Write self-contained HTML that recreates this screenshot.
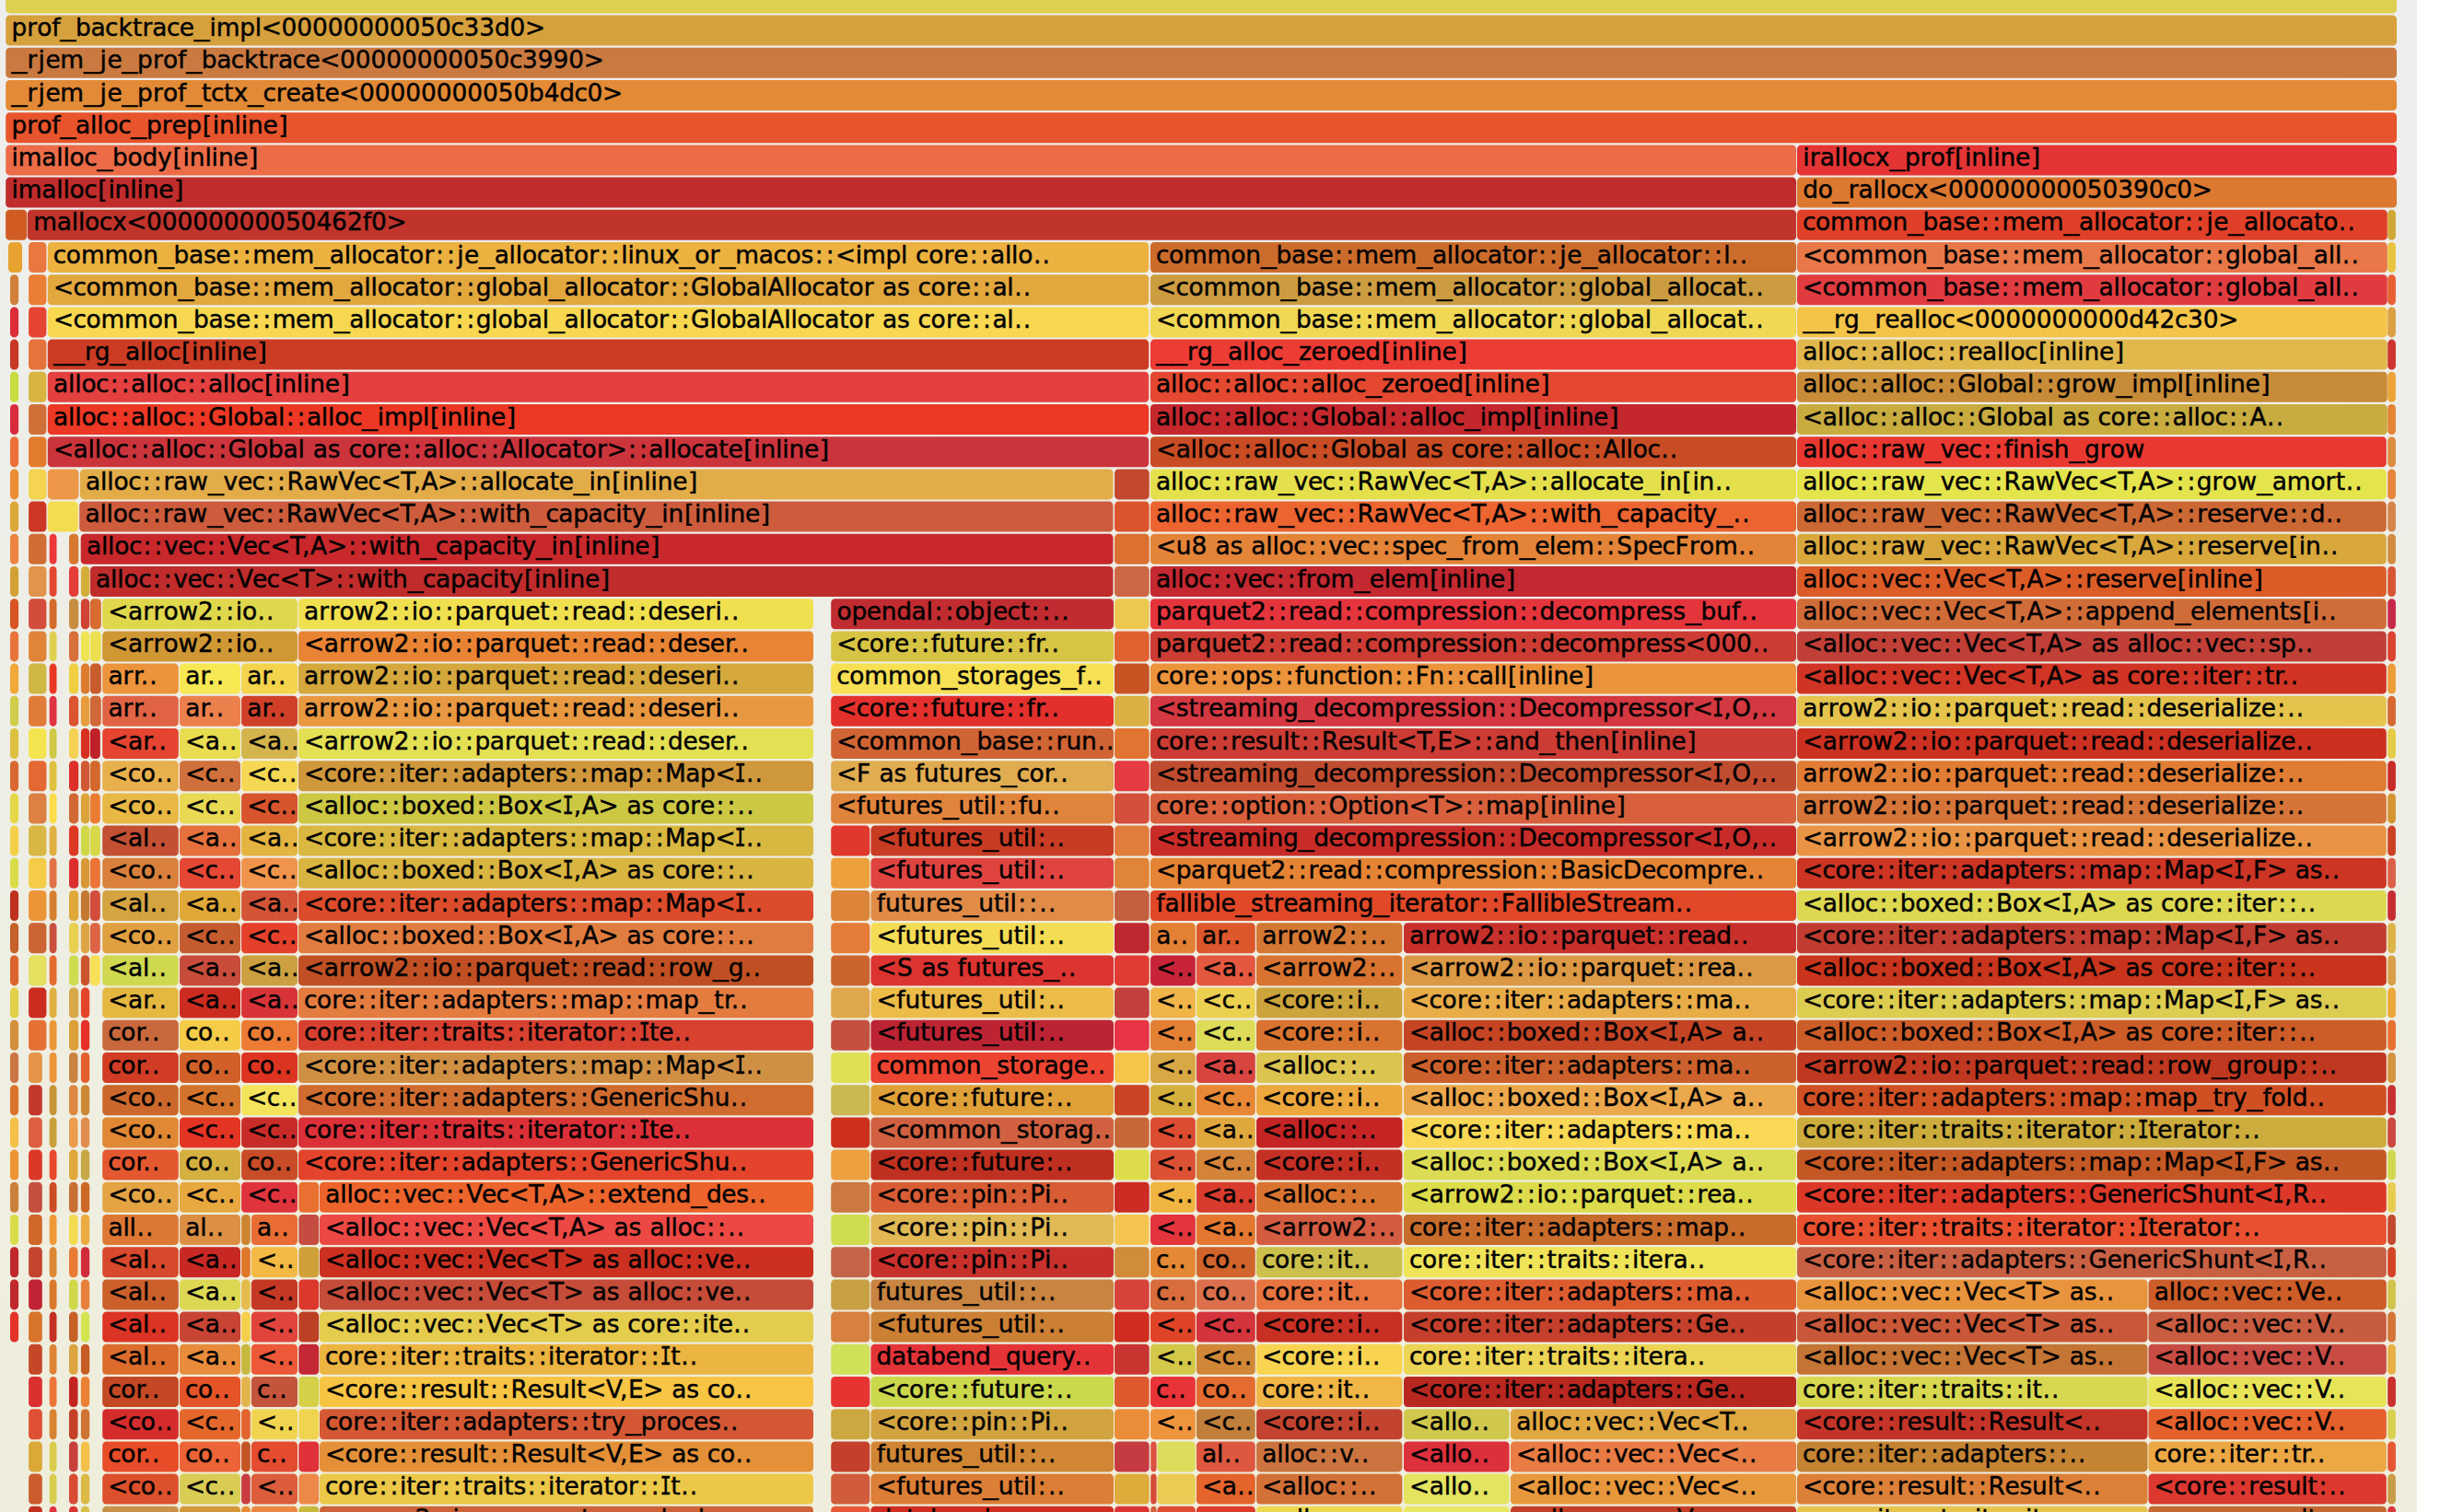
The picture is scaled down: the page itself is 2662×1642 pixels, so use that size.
<!DOCTYPE html>
<html lang="en"><head><meta charset="utf-8"><title>Flame Graph</title>
<style>
html,body{margin:0;padding:0;background:#fff}
body{width:2662px;height:1642px;overflow:hidden}
svg{display:block}
text{font-family:"DejaVu Sans","Liberation Sans",Verdana,sans-serif;font-size:26.4px;fill:#000;stroke:#000;stroke-width:0.45px;stroke-linejoin:round}
.i{font-family:"DejaVu Sans Mono","Liberation Mono",monospace}
</style></head><body>
<svg width="2662" height="1642" viewBox="0 0 2662 1642">
<defs><linearGradient id="bg" x1="0" y1="0" x2="0" y2="1"><stop offset="0" stop-color="#eeeeee"/><stop offset="1" stop-color="#efeedc"/></linearGradient></defs>
<rect x="0" y="0" width="2623.8" height="1642" fill="url(#bg)"/>
<g>
<rect x="6.2" y="-18.6" width="2595.8" height="33" rx="4.4" ry="4.4" fill="rgb(221,208,80)"/>
</g>
<g>
<rect x="6.2" y="16.6" width="2595.8" height="33" rx="4.4" ry="4.4" fill="rgb(214,160,60)"/>
<text y="39.1"><tspan x="12.4 29.2 40.2 56.2">prof</tspan><tspan x="65.5" textLength="16.8" lengthAdjust="spacingAndGlyphs">_</tspan><tspan x="82.1 98.5 114.1 128.4 143.9 154.4 165.3 180.9 194.8">backtrace</tspan><tspan x="210.8" textLength="16.8" lengthAdjust="spacingAndGlyphs">_</tspan><tspan x="227.5 234.7 260.2 276.7 283.7 305.5 322.3 339 355.8 372.6 389.3 406.1 422.8 439.6 456.3 473.1 489.5 503.6 520.3 536.9 553.5 570">impl&lt;00000000050c33d0&gt;</tspan></text>
</g>
<g>
<rect x="6.2" y="51.8" width="2595.8" height="33" rx="4.4" ry="4.4" fill="rgb(202,122,64)"/>
<text y="74.3"><tspan x="12.6" textLength="16.8" lengthAdjust="spacingAndGlyphs">_</tspan><tspan x="29.6 41.5 49.4 65.3">rjem</tspan><tspan x="91" textLength="16.8" lengthAdjust="spacingAndGlyphs">_</tspan><tspan x="108.6 116.6">je</tspan><tspan x="132.5" textLength="16.8" lengthAdjust="spacingAndGlyphs">_</tspan><tspan x="149.1 165.9 176.9 192.9">prof</tspan><tspan x="202.2" textLength="16.8" lengthAdjust="spacingAndGlyphs">_</tspan><tspan x="218.8 235.2 250.8 265.1 280.6 291.1 302 317.6 331.5 347.2 369 385.7 402.5 419.2 436 452.8 469.5 486.3 503 519.8 536.5 552.9 567 583.8 600.5 617.3 633.8">backtrace&lt;00000000050c3990&gt;</tspan></text>
</g>
<g>
<rect x="6.2" y="87" width="2595.8" height="33" rx="4.4" ry="4.4" fill="rgb(226,138,54)"/>
<text y="109.5"><tspan x="12.6" textLength="16.8" lengthAdjust="spacingAndGlyphs">_</tspan><tspan x="29.6 41.5 49.4 65.3">rjem</tspan><tspan x="91" textLength="16.8" lengthAdjust="spacingAndGlyphs">_</tspan><tspan x="108.6 116.6">je</tspan><tspan x="132.5" textLength="16.8" lengthAdjust="spacingAndGlyphs">_</tspan><tspan x="149.1 165.9 176.9 192.9">prof</tspan><tspan x="202.2" textLength="16.8" lengthAdjust="spacingAndGlyphs">_</tspan><tspan x="219 229 243.1 253.5">tctx</tspan><tspan x="269.1" textLength="16.8" lengthAdjust="spacingAndGlyphs">_</tspan><tspan x="285.4 299.7 310.5 326.3 342.3 352.4 368.1 390 406.7 423.5 440.2 457 473.7 490.5 507.2 524 540.8 557.5 574.1 590.7 607.3 623.5 637.6 654.1">create&lt;00000000050b4dc0&gt;</tspan></text>
</g>
<g>
<rect x="6.2" y="122.2" width="2595.8" height="33" rx="4.4" ry="4.4" fill="rgb(232,84,44)"/>
<text y="144.7"><tspan x="12.4 29.2 40.2 56.2">prof</tspan><tspan x="65.5" textLength="16.8" lengthAdjust="spacingAndGlyphs">_</tspan><tspan x="82.1 98.1 105.3 112.5 128.2">alloc</tspan><tspan x="142.3" textLength="16.8" lengthAdjust="spacingAndGlyphs">_</tspan><tspan x="158.9 175.7 186.4 202.2 219.7 230.7 238 254.6 261.8 269.1 285.5 302.3">prep[inline]</tspan></text>
</g>
<g>
<rect x="6.2" y="157.4" width="1943.9" height="33" rx="4.4" ry="4.4" fill="rgb(236,108,72)"/>
<rect x="1951" y="157.4" width="651" height="33" rx="4.4" ry="4.4" fill="rgb(228,52,52)"/>
<text y="179.9"><tspan x="12.5 19.8 45.3 61.2 68.5 75.6 91.3">imalloc</tspan><tspan x="105.4" textLength="16.8" lengthAdjust="spacingAndGlyphs">_</tspan><tspan x="122 138.5 154.4 171 187.5 198.5 205.8 222.4 229.6 236.9 253.3 270.1">body[inline]</tspan></text>
<text y="179.9"><tspan x="1957.3 1964.8 1975.7 1991.6 1998.9 2006.1 2021.7 2035.8">irallocx</tspan><tspan x="2051.5" textLength="16.8" lengthAdjust="spacingAndGlyphs">_</tspan><tspan x="2068 2084.8 2095.8 2111.9 2122 2133.1 2140.3 2156.9 2164.2 2171.4 2187.9 2204.7">prof[inline]</tspan></text>
</g>
<g>
<rect x="6.2" y="192.6" width="1943.9" height="33" rx="4.4" ry="4.4" fill="rgb(192,44,44)"/>
<rect x="1951" y="192.6" width="651" height="33" rx="4.4" ry="4.4" fill="rgb(220,120,48)"/>
<text y="215.1" x="12.5 19.8 45.3 61.2 68.5 75.6 91.3 106.3 117.4 124.6 141.2 148.5 155.7 172.2 189">imalloc[inline]</text>
<text y="215.1"><tspan x="1957.2 1973.7">do</tspan><tspan x="1989.8" textLength="16.8" lengthAdjust="spacingAndGlyphs">_</tspan><tspan x="2006.8 2017.6 2033.6 2040.8 2048 2063.7 2077.8 2093.1 2114.9 2131.7 2148.5 2165.2 2182 2198.7 2215.5 2232.2 2249 2265.7 2282.5 2299.3 2316 2332.8 2349.2 2363.3 2379.8">rallocx&lt;00000000050390c0&gt;</tspan></text>
</g>
<g>
<rect x="6.1" y="227.8" width="23.1" height="33" rx="4.4" ry="4.4" fill="rgb(208,92,36)"/>
<rect x="29.9" y="227.8" width="1920.2" height="33" rx="4.4" ry="4.4" fill="rgb(192,52,44)"/>
<rect x="1951" y="227.8" width="640.8" height="33" rx="4.4" ry="4.4" fill="rgb(224,64,40)"/>
<rect x="2592.2" y="227.8" width="8.7" height="33" rx="4.4" ry="4.4" fill="rgb(208,168,56)"/>
<text y="250.3" x="36.3 61.8 77.7 84.9 92.1 107.8 121.9 137.2 159.1 175.8 192.6 209.3 226.1 242.8 259.6 276.4 293.1 309.9 326.6 343.4 360.1 376.9 393.7 402.9 419.4">mallocx&lt;00000000050462f0&gt;</text>
<text y="250.3"><tspan x="1957 1971 1987.1 2012.7 2038.3 2054.4">common</tspan><tspan x="2071.1" textLength="16.8" lengthAdjust="spacingAndGlyphs">_</tspan><tspan x="2087.6 2104.1 2120.1 2133.5 2151 2163 2173.4 2198.8 2214.7">base::mem</tspan><tspan x="2240.4" textLength="16.8" lengthAdjust="spacingAndGlyphs">_</tspan><tspan x="2257 2272.9 2280.1 2287.3 2303 2317 2333 2343.3 2359.6 2372.1 2384.1 2395.4 2403.3">allocator::je</tspan><tspan x="2419.3" textLength="16.8" lengthAdjust="spacingAndGlyphs">_</tspan><tspan x="2435.9 2451.8 2459 2466.2 2481.9 2495.9 2511.9 2522.2 2538.8 2548.4">allocato..</tspan></text>
</g>
<g>
<rect x="9" y="263" width="15" height="33" rx="4.4" ry="4.4" fill="rgb(232,162,48)"/>
<rect x="31.1" y="263" width="19.3" height="33" rx="4.4" ry="4.4" fill="rgb(232,120,64)"/>
<rect x="51.8" y="263" width="1195.4" height="33" rx="4.4" ry="4.4" fill="rgb(236,178,64)"/>
<rect x="1248.9" y="263" width="701.2" height="33" rx="4.4" ry="4.4" fill="rgb(204,108,44)"/>
<rect x="1951" y="263" width="640.8" height="33" rx="4.4" ry="4.4" fill="rgb(232,120,72)"/>
<rect x="2592.2" y="263" width="8.7" height="33" rx="4.4" ry="4.4" fill="rgb(232,196,64)"/>
<text y="285.5"><tspan x="57.8 71.8 87.9 113.5 139.1 155.2">common</tspan><tspan x="171.9" textLength="16.8" lengthAdjust="spacingAndGlyphs">_</tspan><tspan x="188.4 204.9 220.9 234.3 251.8 263.8 274.2 299.6 315.5">base::mem</tspan><tspan x="341.2" textLength="16.8" lengthAdjust="spacingAndGlyphs">_</tspan><tspan x="357.8 373.7 380.9 388.1 403.8 417.8 433.8 444.1 460.4 472.9 484.9 496.2 504.1">allocator::je</tspan><tspan x="520.1" textLength="16.8" lengthAdjust="spacingAndGlyphs">_</tspan><tspan x="536.7 552.6 559.8 567 582.7 596.7 612.7 623 639.2 651.8 663.8 674.2 681.4 688.6 705.3 722">allocator::linux</tspan><tspan x="737.6" textLength="16.8" lengthAdjust="spacingAndGlyphs">_</tspan><tspan x="754.3 770.6">or</tspan><tspan x="781.6" textLength="16.8" lengthAdjust="spacingAndGlyphs">_</tspan><tspan x="798.3 823.8 839.4 853.5 869.5 884.8 896.8 906.9 928.7 935.9 961.4 978 985.7 994.1 1008.2 1024.4 1035.2 1052.7 1064.7 1075 1090.9 1098.1 1105.3 1122 1131.6">macos::&lt;impl core::allo..</tspan></text>
<text y="285.5"><tspan x="1254.9 1268.9 1285 1310.6 1336.2 1352.3">common</tspan><tspan x="1369" textLength="16.8" lengthAdjust="spacingAndGlyphs">_</tspan><tspan x="1385.5 1402 1418 1431.4 1448.9 1460.9 1471.3 1496.7 1512.6">base::mem</tspan><tspan x="1538.3" textLength="16.8" lengthAdjust="spacingAndGlyphs">_</tspan><tspan x="1554.9 1570.8 1578 1585.2 1600.9 1614.9 1630.9 1641.2 1657.5 1670 1682 1693.3 1701.2">allocator::je</tspan><tspan x="1717.2" textLength="16.8" lengthAdjust="spacingAndGlyphs">_</tspan><tspan x="1733.8 1749.7 1756.9 1764.1 1779.8 1793.8 1809.8 1820.1 1836.3 1848.9 1860.9 1871.3 1879.1 1888.7">allocator::l..</tspan></text>
<text y="285.5"><tspan x="1957.1 1978.6 1992.6 2008.6 2034.3 2059.9 2075.9">&lt;common</tspan><tspan x="2092.6" textLength="16.8" lengthAdjust="spacingAndGlyphs">_</tspan><tspan x="2109.2 2125.6 2141.6 2155.1 2172.6 2184.5 2194.9 2220.3 2236.3">base::mem</tspan><tspan x="2261.9" textLength="16.8" lengthAdjust="spacingAndGlyphs">_</tspan><tspan x="2278.5 2294.5 2301.7 2308.9 2324.6 2338.5 2354.5 2364.8 2381.1 2393.7 2405.7 2415.9 2432.4 2439.6 2455.5 2471.9 2487.9">allocator::global</tspan><tspan x="2495.2" textLength="16.8" lengthAdjust="spacingAndGlyphs">_</tspan><tspan x="2511.8 2527.7 2534.9 2542.8 2552.4">all..</tspan></text>
</g>
<g>
<rect x="11" y="298.2" width="9.1" height="33" rx="4.4" ry="4.4" fill="rgb(208,128,56)"/>
<rect x="31.1" y="298.2" width="19.3" height="33" rx="4.4" ry="4.4" fill="rgb(234,126,52)"/>
<rect x="51.8" y="298.2" width="1195.4" height="33" rx="4.4" ry="4.4" fill="rgb(226,168,62)"/>
<rect x="1248.9" y="298.2" width="701.2" height="33" rx="4.4" ry="4.4" fill="rgb(204,156,64)"/>
<rect x="1951" y="298.2" width="640.8" height="33" rx="4.4" ry="4.4" fill="rgb(224,60,64)"/>
<rect x="2592.2" y="298.2" width="8.7" height="33" rx="4.4" ry="4.4" fill="rgb(232,96,52)"/>
<text y="320.7"><tspan x="57.9 79.4 93.4 109.4 135.1 160.7 176.7">&lt;common</tspan><tspan x="193.4" textLength="16.8" lengthAdjust="spacingAndGlyphs">_</tspan><tspan x="210 226.4 242.4 255.9 273.4 285.3 295.7 321.1 337.1">base::mem</tspan><tspan x="362.7" textLength="16.8" lengthAdjust="spacingAndGlyphs">_</tspan><tspan x="379.3 395.3 402.5 409.7 425.4 439.3 455.3 465.6 481.9 494.5 506.5 516.7 533.2 540.4 556.3 572.7 588.7">allocator::global</tspan><tspan x="596" textLength="16.8" lengthAdjust="spacingAndGlyphs">_</tspan><tspan x="612.6 628.5 635.7 642.9 658.6 672.6 688.6 698.9 715.1 727.7 739.7 750.1 770.5 777.7 793.6 810 825.9 833.2 851.2 858.4 865.6 881.3 895.2 911.2 921.5 937.8 949.3 957.9 973.9 988.1 996.6 1010.6 1026.9 1037.7 1055.2 1067.1 1077.4 1093.3 1101.2 1110.8">allocator::GlobalAllocator as core::al..</tspan></text>
<text y="320.7"><tspan x="1255 1276.5 1290.5 1306.5 1332.2 1357.8 1373.8">&lt;common</tspan><tspan x="1390.5" textLength="16.8" lengthAdjust="spacingAndGlyphs">_</tspan><tspan x="1407.1 1423.5 1439.5 1453 1470.5 1482.4 1492.8 1518.2 1534.2">base::mem</tspan><tspan x="1559.8" textLength="16.8" lengthAdjust="spacingAndGlyphs">_</tspan><tspan x="1576.4 1592.4 1599.6 1606.8 1622.5 1636.4 1652.4 1662.7 1679 1691.6 1703.6 1713.8 1730.3 1737.5 1753.4 1769.8 1785.8">allocator::global</tspan><tspan x="1793.1" textLength="16.8" lengthAdjust="spacingAndGlyphs">_</tspan><tspan x="1809.7 1825.6 1832.8 1840 1855.7 1869.7 1885.7 1896.6 1906.2">allocat..</tspan></text>
<text y="320.7"><tspan x="1957.1 1978.6 1992.6 2008.6 2034.3 2059.9 2075.9">&lt;common</tspan><tspan x="2092.6" textLength="16.8" lengthAdjust="spacingAndGlyphs">_</tspan><tspan x="2109.2 2125.6 2141.6 2155.1 2172.6 2184.5 2194.9 2220.3 2236.3">base::mem</tspan><tspan x="2261.9" textLength="16.8" lengthAdjust="spacingAndGlyphs">_</tspan><tspan x="2278.5 2294.5 2301.7 2308.9 2324.6 2338.5 2354.5 2364.8 2381.1 2393.7 2405.7 2415.9 2432.4 2439.6 2455.5 2471.9 2487.9">allocator::global</tspan><tspan x="2495.2" textLength="16.8" lengthAdjust="spacingAndGlyphs">_</tspan><tspan x="2511.8 2527.7 2534.9 2542.8 2552.4">all..</tspan></text>
</g>
<g>
<rect x="11" y="333.4" width="9.1" height="33" rx="4.4" ry="4.4" fill="rgb(220,44,56)"/>
<rect x="31.1" y="333.4" width="19.3" height="33" rx="4.4" ry="4.4" fill="rgb(230,68,50)"/>
<rect x="51.8" y="333.4" width="1195.4" height="33" rx="4.4" ry="4.4" fill="rgb(248,216,80)"/>
<rect x="1248.9" y="333.4" width="701.2" height="33" rx="4.4" ry="4.4" fill="rgb(240,216,84)"/>
<rect x="1951" y="333.4" width="640.8" height="33" rx="4.4" ry="4.4" fill="rgb(244,196,72)"/>
<rect x="2592.2" y="333.4" width="8.7" height="33" rx="4.4" ry="4.4" fill="rgb(220,160,68)"/>
<text y="355.9"><tspan x="57.9 79.4 93.4 109.4 135.1 160.7 176.7">&lt;common</tspan><tspan x="193.4" textLength="16.8" lengthAdjust="spacingAndGlyphs">_</tspan><tspan x="210 226.4 242.4 255.9 273.4 285.3 295.7 321.1 337.1">base::mem</tspan><tspan x="362.7" textLength="16.8" lengthAdjust="spacingAndGlyphs">_</tspan><tspan x="379.3 395.3 402.5 409.7 425.4 439.3 455.3 465.6 481.9 494.5 506.5 516.7 533.2 540.4 556.3 572.7 588.7">allocator::global</tspan><tspan x="596" textLength="16.8" lengthAdjust="spacingAndGlyphs">_</tspan><tspan x="612.6 628.5 635.7 642.9 658.6 672.6 688.6 698.9 715.1 727.7 739.7 750.1 770.5 777.7 793.6 810 825.9 833.2 851.2 858.4 865.6 881.3 895.2 911.2 921.5 937.8 949.3 957.9 973.9 988.1 996.6 1010.6 1026.9 1037.7 1055.2 1067.1 1077.4 1093.3 1101.2 1110.8">allocator::GlobalAllocator as core::al..</tspan></text>
<text y="355.9"><tspan x="1255 1276.5 1290.5 1306.5 1332.2 1357.8 1373.8">&lt;common</tspan><tspan x="1390.5" textLength="16.8" lengthAdjust="spacingAndGlyphs">_</tspan><tspan x="1407.1 1423.5 1439.5 1453 1470.5 1482.4 1492.8 1518.2 1534.2">base::mem</tspan><tspan x="1559.8" textLength="16.8" lengthAdjust="spacingAndGlyphs">_</tspan><tspan x="1576.4 1592.4 1599.6 1606.8 1622.5 1636.4 1652.4 1662.7 1679 1691.6 1703.6 1713.8 1730.3 1737.5 1753.4 1769.8 1785.8">allocator::global</tspan><tspan x="1793.1" textLength="16.8" lengthAdjust="spacingAndGlyphs">_</tspan><tspan x="1809.7 1825.6 1832.8 1840 1855.7 1869.7 1885.7 1896.6 1906.2">allocat..</tspan></text>
<text y="355.9"><tspan x="1957.4" textLength="16.8" lengthAdjust="spacingAndGlyphs">_</tspan><tspan x="1974.2" textLength="16.8" lengthAdjust="spacingAndGlyphs">_</tspan><tspan x="1991.1 2002">rg</tspan><tspan x="2018.6" textLength="16.8" lengthAdjust="spacingAndGlyphs">_</tspan><tspan x="2035.5 2046.3 2062.1 2078.1 2085.3 2092.5 2108.2 2122 2143.8 2160.6 2177.3 2194.1 2210.8 2227.6 2244.4 2261.1 2277.9 2294.6 2311.2 2327.8 2344.6 2360.9 2375 2391.8 2408.3">realloc&lt;0000000000d42c30&gt;</tspan></text>
</g>
<g>
<rect x="11" y="368.6" width="9.1" height="33" rx="4.4" ry="4.4" fill="rgb(200,56,36)"/>
<rect x="31.1" y="368.6" width="19.3" height="33" rx="4.4" ry="4.4" fill="rgb(228,116,60)"/>
<rect x="51.8" y="368.6" width="1195.4" height="33" rx="4.4" ry="4.4" fill="rgb(204,60,36)"/>
<rect x="1248.9" y="368.6" width="701.2" height="33" rx="4.4" ry="4.4" fill="rgb(236,60,52)"/>
<rect x="1951" y="368.6" width="640.8" height="33" rx="4.4" ry="4.4" fill="rgb(224,184,76)"/>
<rect x="2592.2" y="368.6" width="8.7" height="33" rx="4.4" ry="4.4" fill="rgb(204,52,48)"/>
<text y="391.1"><tspan x="58.2" textLength="16.8" lengthAdjust="spacingAndGlyphs">_</tspan><tspan x="75" textLength="16.8" lengthAdjust="spacingAndGlyphs">_</tspan><tspan x="91.9 102.8">rg</tspan><tspan x="119.4" textLength="16.8" lengthAdjust="spacingAndGlyphs">_</tspan><tspan x="136 151.9 159.1 166.3 182 197 208 215.3 231.9 239.1 246.4 262.8 279.6">alloc[inline]</tspan></text>
<text y="391.1"><tspan x="1255.3" textLength="16.8" lengthAdjust="spacingAndGlyphs">_</tspan><tspan x="1272.1" textLength="16.8" lengthAdjust="spacingAndGlyphs">_</tspan><tspan x="1289 1299.9">rg</tspan><tspan x="1316.5" textLength="16.8" lengthAdjust="spacingAndGlyphs">_</tspan><tspan x="1333.1 1349 1356.2 1363.4 1379.1">alloc</tspan><tspan x="1393.2" textLength="16.8" lengthAdjust="spacingAndGlyphs">_</tspan><tspan x="1410 1423.5 1439.7 1450.7 1466.5 1482.3 1499.7 1510.8 1518 1534.7 1541.9 1549.1 1565.6 1582.4">zeroed[inline]</tspan></text>
<text y="391.1" x="1957.2 1973.2 1980.4 1987.6 2003.3 2018.9 2030.9 2041.1 2057.1 2064.3 2071.5 2087.2 2102.8 2114.8 2125.4 2136.2 2152 2168 2175.2 2182.4 2198.1 2213 2224.1 2231.3 2248 2255.2 2262.4 2278.9 2295.7">alloc::alloc::realloc[inline]</text>
</g>
<g>
<rect x="11" y="403.8" width="9.1" height="33" rx="4.4" ry="4.4" fill="rgb(200,220,64)"/>
<rect x="31.1" y="403.8" width="19.3" height="33" rx="4.4" ry="4.4" fill="rgb(216,180,64)"/>
<rect x="51.8" y="403.8" width="1195.4" height="33" rx="4.4" ry="4.4" fill="rgb(228,64,64)"/>
<rect x="1248.9" y="403.8" width="701.2" height="33" rx="4.4" ry="4.4" fill="rgb(228,72,48)"/>
<rect x="1951" y="403.8" width="640.8" height="33" rx="4.4" ry="4.4" fill="rgb(200,140,56)"/>
<rect x="2592.2" y="403.8" width="8.7" height="33" rx="4.4" ry="4.4" fill="rgb(236,164,56)"/>
<text y="426.3" x="58 74 81.2 88.4 104.1 119.7 131.7 141.9 157.9 165.1 172.3 188 203.6 215.6 225.9 241.8 249 256.2 271.9 286.9 297.9 305.2 321.8 329 336.3 352.7 369.5">alloc::alloc::alloc[inline]</text>
<text y="426.3"><tspan x="1255.1 1271.1 1278.3 1285.5 1301.2 1316.8 1328.8 1339 1355 1362.2 1369.4 1385.1 1400.7 1412.7 1423 1438.9 1446.1 1453.3 1469">alloc::alloc::alloc</tspan><tspan x="1483.1" textLength="16.8" lengthAdjust="spacingAndGlyphs">_</tspan><tspan x="1499.9 1513.4 1529.6 1540.6 1556.4 1572.2 1589.6 1600.7 1607.9 1624.6 1631.8 1639 1655.5 1672.3">zeroed[inline]</tspan></text>
<text y="426.3"><tspan x="1957.2 1973.2 1980.4 1987.6 2003.3 2018.9 2030.9 2041.1 2057.1 2064.3 2071.5 2087.2 2102.8 2114.8 2125.2 2145.6 2152.8 2168.7 2185.1 2201.1 2209.9 2221.8 2232.1 2248.9 2259.8 2275.9">alloc::alloc::Global::grow</tspan><tspan x="2297.5" textLength="16.8" lengthAdjust="spacingAndGlyphs">_</tspan><tspan x="2314.2 2321.4 2346.9 2363.4 2371.5 2382.6 2389.9 2406.5 2413.7 2421 2437.4 2454.2">impl[inline]</tspan></text>
</g>
<g>
<rect x="11" y="439" width="9.1" height="33" rx="4.4" ry="4.4" fill="rgb(216,44,60)"/>
<rect x="31.1" y="439" width="19.3" height="33" rx="4.4" ry="4.4" fill="rgb(208,112,56)"/>
<rect x="51.8" y="439" width="1195.4" height="33" rx="4.4" ry="4.4" fill="rgb(236,56,36)"/>
<rect x="1248.9" y="439" width="701.2" height="33" rx="4.4" ry="4.4" fill="rgb(196,40,44)"/>
<rect x="1951" y="439" width="640.8" height="33" rx="4.4" ry="4.4" fill="rgb(200,172,64)"/>
<rect x="2592.2" y="439" width="8.7" height="33" rx="4.4" ry="4.4" fill="rgb(228,132,52)"/>
<text y="461.5"><tspan x="58 74 81.2 88.4 104.1 119.7 131.7 141.9 157.9 165.1 172.3 188 203.6 215.6 226 246.4 253.6 269.5 285.9 301.9 310.7 322.6 332.9 348.8 356.1 363.2 378.9">alloc::alloc::Global::alloc</tspan><tspan x="393" textLength="16.8" lengthAdjust="spacingAndGlyphs">_</tspan><tspan x="409.7 417 442.5 459 467.1 478.2 485.4 502.1 509.3 516.6 533 549.8">impl[inline]</tspan></text>
<text y="461.5"><tspan x="1255.1 1271.1 1278.3 1285.5 1301.2 1316.8 1328.8 1339 1355 1362.2 1369.4 1385.1 1400.7 1412.7 1423.1 1443.5 1450.7 1466.6 1483 1499 1507.8 1519.7 1530 1545.9 1553.2 1560.3 1576">alloc::alloc::Global::alloc</tspan><tspan x="1590.1" textLength="16.8" lengthAdjust="spacingAndGlyphs">_</tspan><tspan x="1606.8 1614.1 1639.6 1656.1 1664.2 1675.3 1682.5 1699.2 1706.4 1713.7 1730.1 1746.9">impl[inline]</tspan></text>
<text y="461.5" x="1957.1 1978.8 1994.7 2001.9 2009.1 2024.8 2040.5 2052.4 2062.7 2078.6 2085.9 2093.1 2108.7 2124.4 2136.4 2146.8 2167.1 2174.3 2190.2 2206.7 2222.6 2230.3 2239 2255 2269.2 2277.6 2291.6 2307.9 2318.7 2336.2 2348.2 2358.4 2374.4 2381.6 2388.8 2404.5 2420.1 2432.1 2442.5 2461.1 2470.7">&lt;alloc::alloc::Global as core::alloc::A..</text>
</g>
<g>
<rect x="11" y="474.2" width="9.1" height="33" rx="4.4" ry="4.4" fill="rgb(236,112,56)"/>
<rect x="31.1" y="474.2" width="19.3" height="33" rx="4.4" ry="4.4" fill="rgb(226,124,44)"/>
<rect x="51.8" y="474.2" width="1195.4" height="33" rx="4.4" ry="4.4" fill="rgb(204,52,60)"/>
<rect x="1248.9" y="474.2" width="701.2" height="33" rx="4.4" ry="4.4" fill="rgb(200,76,36)"/>
<rect x="1951" y="474.2" width="639.8" height="33" rx="4.4" ry="4.4" fill="rgb(232,56,48)"/>
<rect x="2592.2" y="474.2" width="8.7" height="33" rx="4.4" ry="4.4" fill="rgb(220,140,64)"/>
<text y="496.7" x="57.9 79.6 95.5 102.7 109.9 125.6 141.3 153.2 163.5 179.4 186.7 193.9 209.5 225.2 237.2 247.6 267.9 275.1 291 307.5 323.4 331.1 339.8 355.8 370 378.4 392.4 408.7 419.5 437 449 459.2 475.2 482.4 489.6 505.3 520.9 532.9 543.3 561.3 568.5 575.7 591.4 605.3 621.3 631.6 647.9 658.7 682 694 704.2 720.2 727.4 734.6 750.3 764.2 780.3 790.4 807.2 818.2 825.5 842.1 849.3 856.6 873 889.8">&lt;alloc::alloc::Global as core::alloc::Allocator&gt;::allocate[inline]</text>
<text y="496.7" x="1255 1276.7 1292.6 1299.8 1307 1322.7 1338.4 1350.3 1360.6 1376.5 1383.8 1391 1406.6 1422.3 1434.3 1444.7 1465 1472.2 1488.1 1504.6 1520.5 1528.2 1536.9 1552.9 1567.1 1575.5 1589.5 1605.8 1616.6 1634.1 1646.1 1656.3 1672.3 1679.5 1686.7 1702.4 1718 1730 1740.4 1758.4 1765.6 1772.8 1788.5 1803.2 1812.8">&lt;alloc::alloc::Global as core::alloc::Alloc..</text>
<text y="496.7"><tspan x="1957.2 1973.2 1980.4 1987.6 2003.3 2018.9 2030.9 2041.5 2052.4 2068.4">alloc::raw</tspan><tspan x="2090" textLength="16.8" lengthAdjust="spacingAndGlyphs">_</tspan><tspan x="2106.7 2122 2137.6 2153.3 2165.2 2175.7 2184.9 2192.1 2208.8 2216 2229.8">vec::finish</tspan><tspan x="2246.5" textLength="16.8" lengthAdjust="spacingAndGlyphs">_</tspan><tspan x="2263 2279.8 2290.8 2306.8">grow</tspan></text>
</g>
<g>
<rect x="11" y="509.4" width="9.1" height="33" rx="4.4" ry="4.4" fill="rgb(236,140,52)"/>
<rect x="31.1" y="509.4" width="19.3" height="33" rx="4.4" ry="4.4" fill="rgb(244,212,80)"/>
<rect x="51.8" y="509.4" width="33.7" height="33" rx="4.4" ry="4.4" fill="rgb(236,152,72)"/>
<rect x="86.9" y="509.4" width="1121.6" height="33" rx="4.4" ry="4.4" fill="rgb(226,172,72)"/>
<rect x="1210" y="509.4" width="37.7" height="33" rx="4.4" ry="4.4" fill="rgb(196,72,48)"/>
<rect x="1248.9" y="509.4" width="701.2" height="33" rx="4.4" ry="4.4" fill="rgb(228,224,76)"/>
<rect x="1951" y="509.4" width="639.8" height="33" rx="4.4" ry="4.4" fill="rgb(228,228,76)"/>
<rect x="2592.2" y="509.4" width="8.7" height="33" rx="4.4" ry="4.4" fill="rgb(232,132,56)"/>
<text y="531.9"><tspan x="93.1 109.1 116.3 123.5 139.2 154.8 166.8 177.4 188.3 204.3">alloc::raw</tspan><tspan x="225.9" textLength="16.8" lengthAdjust="spacingAndGlyphs">_</tspan><tspan x="242.6 257.9 273.5 289.2 301.1 311.5 329.7 345.7 367.2 384 399.6 413.4 435.3 448.4 457.4 475.1 498.5 510.5 520.7 536.7 543.9 551.1 566.8 580.7 596.7 606.8">vec::RawVec&lt;T,A&gt;::allocate</tspan><tspan x="622.8" textLength="16.8" lengthAdjust="spacingAndGlyphs">_</tspan><tspan x="639.5 646.8 664.3 675.4 682.6 699.3 706.5 713.7 730.2 747">in[inline]</tspan></text>
<text y="531.9"><tspan x="1255.1 1271.1 1278.3 1285.5 1301.2 1316.8 1328.8 1339.4 1350.3 1366.3">alloc::raw</tspan><tspan x="1387.9" textLength="16.8" lengthAdjust="spacingAndGlyphs">_</tspan><tspan x="1404.6 1419.9 1435.5 1451.2 1463.1 1473.5 1491.7 1507.7 1529.2 1546 1561.6 1575.4 1597.3 1610.4 1619.4 1637.1 1660.5 1672.5 1682.7 1698.7 1705.9 1713.1 1728.8 1742.7 1758.7 1768.8">vec::RawVec&lt;T,A&gt;::allocate</tspan><tspan x="1784.8" textLength="16.8" lengthAdjust="spacingAndGlyphs">_</tspan><tspan x="1801.5 1808.8 1826.3 1837.4 1844.6 1861.9 1871.5">in[in..</tspan></text>
<text y="531.9"><tspan x="1957.2 1973.2 1980.4 1987.6 2003.3 2018.9 2030.9 2041.5 2052.4 2068.4">alloc::raw</tspan><tspan x="2090" textLength="16.8" lengthAdjust="spacingAndGlyphs">_</tspan><tspan x="2106.7 2122 2137.6 2153.3 2165.2 2175.6 2193.8 2209.8 2231.3 2248.1 2263.7 2277.5 2299.4 2312.5 2321.5 2339.2 2362.6 2374.6 2384.8 2401.6 2412.6 2428.6">vec::RawVec&lt;T,A&gt;::grow</tspan><tspan x="2450.2" textLength="16.8" lengthAdjust="spacingAndGlyphs">_</tspan><tspan x="2466.8 2482.8 2508.4 2524.6 2535.7 2546.7 2556.3">amort..</tspan></text>
</g>
<g>
<rect x="11" y="544.6" width="9.1" height="33" rx="4.4" ry="4.4" fill="rgb(220,168,56)"/>
<rect x="31.1" y="544.6" width="19.3" height="33" rx="4.4" ry="4.4" fill="rgb(204,56,36)"/>
<rect x="51.8" y="544.6" width="33" height="33" rx="4.4" ry="4.4" fill="rgb(244,220,80)"/>
<rect x="86.2" y="544.6" width="1122.3" height="33" rx="4.4" ry="4.4" fill="rgb(204,92,60)"/>
<rect x="1210" y="544.6" width="37.7" height="33" rx="4.4" ry="4.4" fill="rgb(220,84,44)"/>
<rect x="1248.9" y="544.6" width="701.2" height="33" rx="4.4" ry="4.4" fill="rgb(236,100,48)"/>
<rect x="1951" y="544.6" width="639.8" height="33" rx="4.4" ry="4.4" fill="rgb(204,104,52)"/>
<rect x="2592.2" y="544.6" width="8.7" height="33" rx="4.4" ry="4.4" fill="rgb(212,132,76)"/>
<text y="567.1"><tspan x="92.4 108.4 115.6 122.8 138.5 154.1 166.1 176.7 187.6 203.6">alloc::raw</tspan><tspan x="225.2" textLength="16.8" lengthAdjust="spacingAndGlyphs">_</tspan><tspan x="241.9 257.2 272.8 288.5 300.4 310.8 329 345 366.5 383.3 398.9 412.7 434.6 447.7 456.7 474.4 497.8 509.8 520.2 541.7 549 559.3">vec::RawVec&lt;T,A&gt;::with</tspan><tspan x="576" textLength="16.8" lengthAdjust="spacingAndGlyphs">_</tspan><tspan x="592.4 606.3 622.2 638.6 654.2 668.3 675.6 685.9">capacity</tspan><tspan x="701.5" textLength="16.8" lengthAdjust="spacingAndGlyphs">_</tspan><tspan x="718.2 725.5 743 754.1 761.3 778 785.2 792.5 808.9 825.7">in[inline]</tspan></text>
<text y="567.1"><tspan x="1255.1 1271.1 1278.3 1285.5 1301.2 1316.8 1328.8 1339.4 1350.3 1366.3">alloc::raw</tspan><tspan x="1387.9" textLength="16.8" lengthAdjust="spacingAndGlyphs">_</tspan><tspan x="1404.6 1419.9 1435.5 1451.2 1463.1 1473.5 1491.7 1507.7 1529.2 1546 1561.6 1575.4 1597.3 1610.4 1619.4 1637.1 1660.5 1672.5 1682.9 1704.4 1711.7 1722">vec::RawVec&lt;T,A&gt;::with</tspan><tspan x="1738.7" textLength="16.8" lengthAdjust="spacingAndGlyphs">_</tspan><tspan x="1755.1 1769 1784.9 1801.3 1816.9 1831 1838.3 1848.6">capacity</tspan><tspan x="1864.2" textLength="16.8" lengthAdjust="spacingAndGlyphs">_</tspan><tspan x="1881.6 1891.2">..</tspan></text>
<text y="567.1"><tspan x="1957.2 1973.2 1980.4 1987.6 2003.3 2018.9 2030.9 2041.5 2052.4 2068.4">alloc::raw</tspan><tspan x="2090" textLength="16.8" lengthAdjust="spacingAndGlyphs">_</tspan><tspan x="2106.7 2122 2137.6 2153.3 2165.2 2175.6 2193.8 2209.8 2231.3 2248.1 2263.7 2277.5 2299.4 2312.5 2321.5 2339.2 2362.6 2374.6 2385.2 2396 2411.9 2425.4 2441.6 2452.6 2468 2485.5 2497.4 2507.7 2524.9 2534.5">vec::RawVec&lt;T,A&gt;::reserve::d..</tspan></text>
</g>
<g>
<rect x="11" y="579.8" width="9.1" height="33" rx="4.4" ry="4.4" fill="rgb(236,132,64)"/>
<rect x="31.1" y="579.8" width="19.3" height="33" rx="4.4" ry="4.4" fill="rgb(208,108,52)"/>
<rect x="53.7" y="579.8" width="7.8" height="33" rx="4.4" ry="4.4" fill="rgb(236,56,56)"/>
<rect x="75" y="579.8" width="10.2" height="33" rx="4.4" ry="4.4" fill="rgb(216,120,48)"/>
<rect x="87.7" y="579.8" width="1120.8" height="33" rx="4.4" ry="4.4" fill="rgb(200,40,44)"/>
<rect x="1210" y="579.8" width="37.7" height="33" rx="4.4" ry="4.4" fill="rgb(220,112,48)"/>
<rect x="1248.9" y="579.8" width="701.2" height="33" rx="4.4" ry="4.4" fill="rgb(228,132,56)"/>
<rect x="1951" y="579.8" width="639.8" height="33" rx="4.4" ry="4.4" fill="rgb(216,168,60)"/>
<rect x="2592.2" y="579.8" width="8.7" height="33" rx="4.4" ry="4.4" fill="rgb(208,140,64)"/>
<text y="602.3"><tspan x="93.9 109.9 117.1 124.3 140 155.6 167.6 178 193.3 208.9 224.6 236.5 246.9 263.7 279.3 293.2 315 328.1 337.1 354.9 378.2 390.2 400.6 422.1 429.4 439.7">alloc::vec::Vec&lt;T,A&gt;::with</tspan><tspan x="456.4" textLength="16.8" lengthAdjust="spacingAndGlyphs">_</tspan><tspan x="472.8 486.8 502.6 519 534.6 548.7 556 566.3">capacity</tspan><tspan x="581.9" textLength="16.8" lengthAdjust="spacingAndGlyphs">_</tspan><tspan x="598.6 605.9 623.4 634.5 641.7 658.4 665.6 672.9 689.3 706.1">in[inline]</tspan></text>
<text y="602.3"><tspan x="1255 1276.8 1293.5 1310.7 1319.4 1335.4 1349.6 1358.2 1374.2 1381.4 1388.6 1404.3 1419.9 1431.9 1442.3 1457.6 1473.2 1488.9 1500.8 1511.2 1524.8 1541.1 1556.7">&lt;u8 as alloc::vec::spec</tspan><tspan x="1570.8" textLength="16.8" lengthAdjust="spacingAndGlyphs">_</tspan><tspan x="1587.6 1597.1 1608 1624.1">from</tspan><tspan x="1649.7" textLength="16.8" lengthAdjust="spacingAndGlyphs">_</tspan><tspan x="1666.2 1682.1 1689.2 1705.1 1732.3 1744.3 1755.3 1772.5 1788.9 1804.4 1818.5 1833.9 1844.9 1860.9 1887.2 1896.8">elem::SpecFrom..</tspan></text>
<text y="602.3"><tspan x="1957.2 1973.2 1980.4 1987.6 2003.3 2018.9 2030.9 2041.5 2052.4 2068.4">alloc::raw</tspan><tspan x="2090" textLength="16.8" lengthAdjust="spacingAndGlyphs">_</tspan><tspan x="2106.7 2122 2137.6 2153.3 2165.2 2175.6 2193.8 2209.8 2231.3 2248.1 2263.7 2277.5 2299.4 2312.5 2321.5 2339.2 2362.6 2374.6 2385.2 2396 2411.9 2425.4 2441.6 2452.6 2468 2484.8 2495.8 2503.1 2520.4 2530">vec::RawVec&lt;T,A&gt;::reserve[in..</tspan></text>
</g>
<g>
<rect x="11" y="615" width="9.1" height="33" rx="4.4" ry="4.4" fill="rgb(212,160,52)"/>
<rect x="31.1" y="615" width="19.3" height="33" rx="4.4" ry="4.4" fill="rgb(224,148,76)"/>
<rect x="53.7" y="615" width="7.8" height="33" rx="4.4" ry="4.4" fill="rgb(228,72,48)"/>
<rect x="75" y="615" width="10.2" height="33" rx="4.4" ry="4.4" fill="rgb(228,60,56)"/>
<rect x="87.9" y="615" width="9.3" height="33" rx="4.4" ry="4.4" fill="rgb(212,172,56)"/>
<rect x="97.9" y="615" width="1110.6" height="33" rx="4.4" ry="4.4" fill="rgb(192,44,44)"/>
<rect x="1210" y="615" width="37.7" height="33" rx="4.4" ry="4.4" fill="rgb(204,104,68)"/>
<rect x="1248.9" y="615" width="701.2" height="33" rx="4.4" ry="4.4" fill="rgb(196,40,48)"/>
<rect x="1951" y="615" width="639.8" height="33" rx="4.4" ry="4.4" fill="rgb(220,92,40)"/>
<rect x="2592.2" y="615" width="8.7" height="33" rx="4.4" ry="4.4" fill="rgb(216,84,52)"/>
<text y="637.5"><tspan x="104.1 120.1 127.3 134.5 150.2 165.8 177.8 188.2 203.5 219.1 234.8 246.7 257.1 273.9 289.5 303.4 325.2 341.1 364.5 376.5 386.9 408.4 415.7 426">alloc::vec::Vec&lt;T&gt;::with</tspan><tspan x="442.7" textLength="16.8" lengthAdjust="spacingAndGlyphs">_</tspan><tspan x="459.1 473 488.9 505.3 520.9 535 542.3 552.6 569.1 580.1 587.4 604 611.2 618.5 634.9 651.7">capacity[inline]</tspan></text>
<text y="637.5"><tspan x="1255.1 1271.1 1278.3 1285.5 1301.2 1316.8 1328.8 1339.2 1354.5 1370.1 1385.8 1397.7 1408.2 1417.6 1428.6 1444.6">alloc::vec::from</tspan><tspan x="1470.3" textLength="16.8" lengthAdjust="spacingAndGlyphs">_</tspan><tspan x="1486.8 1502.7 1509.7 1525.7 1552.2 1563.2 1570.5 1587.1 1594.4 1601.6 1618 1634.8">elem[inline]</tspan></text>
<text y="637.5" x="1957.2 1973.2 1980.4 1987.6 2003.3 2018.9 2030.9 2041.3 2056.6 2072.2 2087.9 2099.8 2110.2 2127 2142.6 2156.5 2178.3 2191.4 2200.4 2218.2 2241.5 2253.5 2264.1 2274.9 2290.9 2304.3 2320.5 2331.5 2346.9 2363.7 2374.8 2382 2398.6 2405.9 2413.1 2429.6 2446.4">alloc::vec::Vec&lt;T,A&gt;::reserve[inline]</text>
</g>
<g>
<rect x="11" y="650.2" width="9.1" height="33" rx="4.4" ry="4.4" fill="rgb(216,84,36)"/>
<rect x="31.1" y="650.2" width="19.3" height="33" rx="4.4" ry="4.4" fill="rgb(212,76,60)"/>
<rect x="53.7" y="650.2" width="7.8" height="33" rx="4.4" ry="4.4" fill="rgb(212,108,44)"/>
<rect x="75" y="650.2" width="10.2" height="33" rx="4.4" ry="4.4" fill="rgb(200,140,64)"/>
<rect x="87.9" y="650.2" width="9.3" height="33" rx="4.4" ry="4.4" fill="rgb(208,68,52)"/>
<rect x="97.9" y="650.2" width="11.9" height="33" rx="4.4" ry="4.4" fill="rgb(216,108,48)"/>
<rect x="111.2" y="650.2" width="211.8" height="33" rx="4.4" ry="4.4" fill="rgb(224,216,76)"/>
<rect x="323.9" y="650.2" width="559.1" height="33" rx="4.4" ry="4.4" fill="rgb(240,224,80)"/>
<rect x="902.2" y="650.2" width="306.8" height="33" rx="4.4" ry="4.4" fill="rgb(192,44,48)"/>
<rect x="1210" y="650.2" width="37.7" height="33" rx="4.4" ry="4.4" fill="rgb(236,200,80)"/>
<rect x="1248.9" y="650.2" width="701.2" height="33" rx="4.4" ry="4.4" fill="rgb(228,52,60)"/>
<rect x="1951" y="650.2" width="639.8" height="33" rx="4.4" ry="4.4" fill="rgb(208,108,56)"/>
<rect x="2592.2" y="650.2" width="8.7" height="33" rx="4.4" ry="4.4" fill="rgb(200,40,72)"/>
<text y="672.7" x="117.3 139 155.2 166.4 177.4 193.5 215 233.3 245.3 255.7 262.9 279.5 289.1">&lt;arrow2::io..</text>
<text y="672.7" x="330.1 346.3 357.6 368.6 384.6 406.2 424.5 436.4 446.8 454 471.6 483.6 493.8 510.2 526.4 537.3 553.9 570.3 586.3 598.2 610.2 620.8 631.6 647.4 663.2 681.3 693.3 703.5 719.9 735.8 749.3 765.5 776.5 784.3 793.9">arrow2::io::parquet::read::deseri..</text>
<text y="672.7" x="908.5 924.4 940.7 956.7 973.2 989.6 1005.6 1014.4 1026.4 1036.7 1052.6 1070.1 1078 1093.6 1107.7 1119.6 1131.6 1142.6 1152.2">opendal::object::..</text>
<text y="672.7"><tspan x="1255.1 1271.5 1287.7 1298.6 1315.2 1331.6 1347.6 1358 1376.3 1388.2 1398.9 1409.6 1425.4 1441.3 1459.4 1471.4 1481.4 1495.4 1511.5 1537 1553.7 1564.5 1580.5 1594.2 1607.9 1615.1 1631.1 1649.4 1661.3 1671.6 1687.9 1703.5 1717.5 1733.6 1759.1 1775.9 1786.6 1802.6 1816.3">parquet2::read::compression::decompress</tspan><tspan x="1830.1" textLength="16.8" lengthAdjust="spacingAndGlyphs">_</tspan><tspan x="1846.6 1863.2 1879.9 1889.8 1899.4">buf..</tspan></text>
<text y="672.7"><tspan x="1957.2 1973.2 1980.4 1987.6 2003.3 2018.9 2030.9 2041.3 2056.6 2072.2 2087.9 2099.8 2110.2 2127 2142.6 2156.5 2178.3 2191.4 2200.4 2218.2 2241.5 2253.5 2263.7 2279.6 2296 2312.3 2328.3 2344.8">alloc::vec::Vec&lt;T,A&gt;::append</tspan><tspan x="2361.4" textLength="16.8" lengthAdjust="spacingAndGlyphs">_</tspan><tspan x="2377.9 2393.8 2400.8 2416.7 2442.1 2458.1 2474.8 2485.1 2499.7 2510.8 2518.7 2528.2">elements[i..</tspan></text>
</g>
<g>
<rect x="11" y="685.4" width="9.1" height="33" rx="4.4" ry="4.4" fill="rgb(232,116,60)"/>
<rect x="31.1" y="685.4" width="19.3" height="33" rx="4.4" ry="4.4" fill="rgb(224,132,56)"/>
<rect x="53.7" y="685.4" width="7.8" height="33" rx="4.4" ry="4.4" fill="rgb(224,208,80)"/>
<rect x="75" y="685.4" width="10.2" height="33" rx="4.4" ry="4.4" fill="rgb(216,112,60)"/>
<rect x="87.9" y="685.4" width="9.3" height="33" rx="4.4" ry="4.4" fill="rgb(240,228,84)"/>
<rect x="97.9" y="685.4" width="11.9" height="33" rx="4.4" ry="4.4" fill="rgb(236,224,80)"/>
<rect x="111.2" y="685.4" width="211.8" height="33" rx="4.4" ry="4.4" fill="rgb(208,152,52)"/>
<rect x="323.9" y="685.4" width="559.1" height="33" rx="4.4" ry="4.4" fill="rgb(232,132,52)"/>
<rect x="902.2" y="685.4" width="306.8" height="33" rx="4.4" ry="4.4" fill="rgb(216,196,68)"/>
<rect x="1210" y="685.4" width="37.7" height="33" rx="4.4" ry="4.4" fill="rgb(224,96,48)"/>
<rect x="1248.9" y="685.4" width="701.2" height="33" rx="4.4" ry="4.4" fill="rgb(204,60,52)"/>
<rect x="1951" y="685.4" width="639.8" height="33" rx="4.4" ry="4.4" fill="rgb(192,64,56)"/>
<rect x="2592.2" y="685.4" width="8.7" height="33" rx="4.4" ry="4.4" fill="rgb(220,68,48)"/>
<text y="707.9" x="117.3 139 155.2 166.4 177.4 193.5 215 233.3 245.3 255.7 262.9 279.5 289.1">&lt;arrow2::io..</text>
<text y="707.9" x="330 351.7 367.9 379.1 390.1 406.2 427.7 446 458 468.4 475.6 493.2 505.1 515.4 531.8 548 558.9 575.4 591.9 607.9 619.8 631.7 642.3 653.1 668.9 684.8 702.9 714.8 725.1 741.4 757.4 770.8 787 794.8 804.4">&lt;arrow2::io::parquet::read::deser..</text>
<text y="707.9" x="908.3 929.8 943.8 960.1 970.9 988.4 1000.3 1010.7 1020 1036.7 1047.1 1064 1074.7 1092.2 1104.2 1114.6 1124.1 1131.9 1141.5">&lt;core::future::fr..</text>
<text y="707.9" x="1255.1 1271.5 1287.7 1298.6 1315.2 1331.6 1347.6 1358 1376.3 1388.2 1398.9 1409.6 1425.4 1441.3 1459.4 1471.4 1481.4 1495.4 1511.5 1537 1553.7 1564.5 1580.5 1594.2 1607.9 1615.1 1631.1 1649.4 1661.3 1671.6 1687.9 1703.5 1717.5 1733.6 1759.1 1775.9 1786.6 1802.6 1816.3 1829.8 1851.6 1868.4 1885.1 1902.5 1912.1">parquet2::read::compression::decompress&lt;000..</text>
<text y="707.9" x="1957.1 1978.8 1994.7 2001.9 2009.1 2024.8 2040.5 2052.4 2062.9 2078.2 2093.8 2109.4 2121.4 2131.8 2148.6 2164.2 2178 2199.9 2213 2222 2239.7 2262 2270.6 2286.6 2300.8 2309.5 2325.4 2332.6 2339.8 2355.5 2371.2 2383.1 2393.6 2408.9 2424.5 2440.1 2452.1 2462.5 2476.1 2493.3 2502.8">&lt;alloc::vec::Vec&lt;T,A&gt; as alloc::vec::sp..</text>
</g>
<g>
<rect x="11" y="720.6" width="9.1" height="33" rx="4.4" ry="4.4" fill="rgb(240,168,56)"/>
<rect x="31.1" y="720.6" width="19.3" height="33" rx="4.4" ry="4.4" fill="rgb(208,184,68)"/>
<rect x="53.7" y="720.6" width="7.8" height="33" rx="4.4" ry="4.4" fill="rgb(232,56,36)"/>
<rect x="75" y="720.6" width="10.2" height="33" rx="4.4" ry="4.4" fill="rgb(240,208,64)"/>
<rect x="87.9" y="720.6" width="9.3" height="33" rx="4.4" ry="4.4" fill="rgb(220,124,48)"/>
<rect x="97.9" y="720.6" width="11.9" height="33" rx="4.4" ry="4.4" fill="rgb(200,92,44)"/>
<rect x="111.2" y="720.6" width="82.6" height="33" rx="4.4" ry="4.4" fill="rgb(236,148,60)"/>
<rect x="195" y="720.6" width="66" height="33" rx="4.4" ry="4.4" fill="rgb(248,232,84)"/>
<rect x="262.1" y="720.6" width="60.9" height="33" rx="4.4" ry="4.4" fill="rgb(244,212,76)"/>
<rect x="323.9" y="720.6" width="559.1" height="33" rx="4.4" ry="4.4" fill="rgb(212,168,60)"/>
<rect x="902.2" y="720.6" width="306.8" height="33" rx="4.4" ry="4.4" fill="rgb(248,224,84)"/>
<rect x="1210" y="720.6" width="37.7" height="33" rx="4.4" ry="4.4" fill="rgb(200,84,36)"/>
<rect x="1248.9" y="720.6" width="701.2" height="33" rx="4.4" ry="4.4" fill="rgb(236,148,60)"/>
<rect x="1951" y="720.6" width="639.8" height="33" rx="4.4" ry="4.4" fill="rgb(208,52,36)"/>
<rect x="2592.2" y="720.6" width="8.7" height="33" rx="4.4" ry="4.4" fill="rgb(236,156,56)"/>
<text y="743.1" x="117.4 133.6 144.9 152.7 162.3">arr..</text>
<text y="743.1" x="201.2 217.4 225.3 234.8">ar..</text>
<text y="743.1" x="268.3 284.5 292.4 301.9">ar..</text>
<text y="743.1" x="330.1 346.3 357.6 368.6 384.6 406.2 424.5 436.4 446.8 454 471.6 483.6 493.8 510.2 526.4 537.3 553.9 570.3 586.3 598.2 610.2 620.8 631.6 647.4 663.2 681.3 693.3 703.5 719.9 735.8 749.3 765.5 776.5 784.3 793.9">arrow2::io::parquet::read::deseri..</text>
<text y="743.1"><tspan x="908.2 922.2 938.3 963.9 989.5 1005.6">common</tspan><tspan x="1022.3" textLength="16.8" lengthAdjust="spacingAndGlyphs">_</tspan><tspan x="1039 1052.8 1063 1079.3 1090.2 1106 1122.3 1138.3">storages</tspan><tspan x="1152" textLength="16.8" lengthAdjust="spacingAndGlyphs">_</tspan><tspan x="1168.8 1178.7 1188.3">f..</tspan></text>
<text y="743.1" x="1254.9 1268.9 1285.2 1296 1313.5 1325.5 1335.8 1351.7 1368.3 1383.6 1395.5 1405.9 1415.2 1431.9 1448.2 1462.3 1472.6 1479.8 1495.9 1514.1 1526.1 1536.5 1551.6 1569.9 1581.8 1591.9 1605.8 1621.8 1629 1637.1 1648.2 1655.4 1672.1 1679.3 1686.5 1703 1719.8">core::ops::function::Fn::call[inline]</text>
<text y="743.1" x="1957.1 1978.8 1994.7 2001.9 2009.1 2024.8 2040.5 2052.4 2062.9 2078.2 2093.8 2109.4 2121.4 2131.8 2148.6 2164.2 2178 2199.9 2213 2222 2239.7 2262 2270.6 2286.6 2300.8 2309.3 2323.3 2339.6 2350.4 2367.9 2379.8 2390.2 2397.5 2407.6 2423.7 2436.3 2448.3 2458.7 2469.3 2477.1 2486.7">&lt;alloc::vec::Vec&lt;T,A&gt; as core::iter::tr..</text>
</g>
<g>
<rect x="11" y="755.8" width="9.1" height="33" rx="4.4" ry="4.4" fill="rgb(208,204,76)"/>
<rect x="31.1" y="755.8" width="19.3" height="33" rx="4.4" ry="4.4" fill="rgb(224,124,56)"/>
<rect x="53.7" y="755.8" width="7.8" height="33" rx="4.4" ry="4.4" fill="rgb(224,52,64)"/>
<rect x="75" y="755.8" width="10.2" height="33" rx="4.4" ry="4.4" fill="rgb(220,84,48)"/>
<rect x="87.9" y="755.8" width="9.3" height="33" rx="4.4" ry="4.4" fill="rgb(232,156,60)"/>
<rect x="97.9" y="755.8" width="11.9" height="33" rx="4.4" ry="4.4" fill="rgb(208,104,56)"/>
<rect x="111.2" y="755.8" width="82.6" height="33" rx="4.4" ry="4.4" fill="rgb(224,100,68)"/>
<rect x="195" y="755.8" width="66" height="33" rx="4.4" ry="4.4" fill="rgb(236,128,76)"/>
<rect x="262.1" y="755.8" width="60.9" height="33" rx="4.4" ry="4.4" fill="rgb(208,64,40)"/>
<rect x="323.9" y="755.8" width="559.1" height="33" rx="4.4" ry="4.4" fill="rgb(232,152,64)"/>
<rect x="902.2" y="755.8" width="306.8" height="33" rx="4.4" ry="4.4" fill="rgb(228,48,44)"/>
<rect x="1210" y="755.8" width="37.7" height="33" rx="4.4" ry="4.4" fill="rgb(216,176,68)"/>
<rect x="1248.9" y="755.8" width="701.2" height="33" rx="4.4" ry="4.4" fill="rgb(212,56,64)"/>
<rect x="1951" y="755.8" width="639.8" height="33" rx="4.4" ry="4.4" fill="rgb(228,196,76)"/>
<rect x="2592.2" y="755.8" width="8.7" height="33" rx="4.4" ry="4.4" fill="rgb(212,104,48)"/>
<text y="778.3" x="117.4 133.6 144.9 152.7 162.3">arr..</text>
<text y="778.3" x="201.2 217.4 225.3 234.8">ar..</text>
<text y="778.3" x="268.3 284.5 292.4 301.9">ar..</text>
<text y="778.3" x="330.1 346.3 357.6 368.6 384.6 406.2 424.5 436.4 446.8 454 471.6 483.6 493.8 510.2 526.4 537.3 553.9 570.3 586.3 598.2 610.2 620.8 631.6 647.4 663.2 681.3 693.3 703.5 719.9 735.8 749.3 765.5 776.5 784.3 793.9">arrow2::io::parquet::read::deseri..</text>
<text y="778.3" x="908.3 929.8 943.8 960.1 970.9 988.4 1000.3 1010.7 1020 1036.7 1047.1 1064 1074.7 1092.2 1104.2 1114.6 1124.1 1131.9 1141.5">&lt;core::future::fr..</text>
<text y="778.3"><tspan x="1255 1276.8 1290.6 1301.2 1311.9 1327.7 1343.7 1369.3 1376.6 1393.1">&lt;streaming</tspan><tspan x="1409.7" textLength="16.8" lengthAdjust="spacingAndGlyphs">_</tspan><tspan x="1426.3 1442.6 1458.2 1472.2 1488.2 1513.8 1530.5 1541.3 1557.3 1571 1584.7 1591.9 1607.9 1626.2 1638.1 1648.6 1668.6 1684.2 1698.2 1714.3 1739.8 1756.5 1767.3 1783.3 1797 1810.7 1826.9 1837.7">decompression::Decompressor&lt;</tspan><tspan class="i" x="1858.9" textLength="12.4" lengthAdjust="spacingAndGlyphs">I</tspan><tspan x="1871.2 1880.2 1901.6 1911.2 1920.7">,O,..</tspan></text>
<text y="778.3" x="1957.2 1973.4 1984.7 1995.7 2011.7 2033.3 2051.6 2063.5 2073.9 2081.1 2098.7 2110.7 2120.9 2137.3 2153.5 2164.4 2181 2197.4 2213.4 2225.3 2237.3 2247.9 2258.7 2274.5 2290.3 2308.4 2320.4 2330.6 2347 2362.9 2376.4 2392.6 2403.6 2410.7 2426.6 2433.8 2441.1 2454.7 2472.2 2483.2 2492.8">arrow2::io::parquet::read::deserialize:..</text>
</g>
<g>
<rect x="11" y="791" width="9.1" height="33" rx="4.4" ry="4.4" fill="rgb(220,192,64)"/>
<rect x="31.1" y="791" width="19.3" height="33" rx="4.4" ry="4.4" fill="rgb(244,228,80)"/>
<rect x="53.7" y="791" width="7.8" height="33" rx="4.4" ry="4.4" fill="rgb(208,200,72)"/>
<rect x="75" y="791" width="10.2" height="33" rx="4.4" ry="4.4" fill="rgb(244,208,84)"/>
<rect x="87.9" y="791" width="9.3" height="33" rx="4.4" ry="4.4" fill="rgb(216,48,32)"/>
<rect x="97.9" y="791" width="10.9" height="33" rx="4.4" ry="4.4" fill="rgb(192,32,40)"/>
<rect x="111.2" y="791" width="82.6" height="33" rx="4.4" ry="4.4" fill="rgb(228,68,48)"/>
<rect x="195" y="791" width="66" height="33" rx="4.4" ry="4.4" fill="rgb(232,220,80)"/>
<rect x="262.1" y="791" width="60.9" height="33" rx="4.4" ry="4.4" fill="rgb(212,180,76)"/>
<rect x="323.9" y="791" width="559.1" height="33" rx="4.4" ry="4.4" fill="rgb(228,224,84)"/>
<rect x="902.2" y="791" width="306.8" height="33" rx="4.4" ry="4.4" fill="rgb(208,100,52)"/>
<rect x="1210" y="791" width="37.7" height="33" rx="4.4" ry="4.4" fill="rgb(224,116,48)"/>
<rect x="1248.9" y="791" width="701.2" height="33" rx="4.4" ry="4.4" fill="rgb(204,60,52)"/>
<rect x="1951" y="791" width="639.8" height="33" rx="4.4" ry="4.4" fill="rgb(204,48,32)"/>
<rect x="2592.2" y="791" width="8.7" height="33" rx="4.4" ry="4.4" fill="rgb(228,204,72)"/>
<text y="813.5" x="117.3 139 155.2 163 172.6">&lt;ar..</text>
<text y="813.5" x="201.1 222.8 239.4 249">&lt;a..</text>
<text y="813.5" x="268.2 289.9 306.5 316.1">&lt;a..</text>
<text y="813.5" x="330 351.7 367.9 379.1 390.1 406.2 427.7 446 458 468.4 475.6 493.2 505.1 515.4 531.8 548 558.9 575.4 591.9 607.9 619.8 631.7 642.3 653.1 668.9 684.8 702.9 714.8 725.1 741.4 757.4 770.8 787 794.8 804.4">&lt;arrow2::io::parquet::read::deser..</text>
<text y="813.5"><tspan x="908.3 929.8 943.8 959.8 985.5 1011.1 1027.1">&lt;common</tspan><tspan x="1043.8" textLength="16.8" lengthAdjust="spacingAndGlyphs">_</tspan><tspan x="1060.4 1076.8 1092.8 1106.3 1123.8 1135.7 1146.4 1157.4 1174.1 1191.4 1201">base::run..</tspan></text>
<text y="813.5"><tspan x="1254.9 1268.9 1285.2 1296 1313.5 1325.5 1336.1 1346.9 1362.8 1376.5 1393.2 1400.5 1412.4 1424.3 1434.8 1452.8 1468.8 1482.5 1499.1 1506.4 1516.5 1538.4 1551.5 1560.5 1576.8 1600.2 1612.2 1622.4 1638.4 1654.9">core::result::Result&lt;T,E&gt;::and</tspan><tspan x="1671.5" textLength="16.8" lengthAdjust="spacingAndGlyphs">_</tspan><tspan x="1688.3 1698.6 1715.1 1731 1748.6 1759.6 1766.9 1783.5 1790.7 1798 1814.4 1831.2">then[inline]</tspan></text>
<text y="813.5" x="1957.1 1978.8 1995 2006.2 2017.2 2033.3 2054.8 2073.1 2085.1 2095.5 2102.7 2120.3 2132.2 2142.5 2158.9 2175.1 2186 2202.5 2219 2235 2246.9 2258.8 2269.4 2280.2 2296 2311.9 2330 2341.9 2352.2 2368.5 2384.5 2397.9 2414.1 2425.1 2432.2 2448.2 2455.4 2462.6 2476.2 2492.8 2502.4">&lt;arrow2::io::parquet::read::deserialize..</text>
</g>
<g>
<rect x="11" y="826.2" width="9.1" height="33" rx="4.4" ry="4.4" fill="rgb(216,104,48)"/>
<rect x="31.1" y="826.2" width="19.3" height="33" rx="4.4" ry="4.4" fill="rgb(228,104,52)"/>
<rect x="53.7" y="826.2" width="7.8" height="33" rx="4.4" ry="4.4" fill="rgb(224,192,64)"/>
<rect x="75" y="826.2" width="10.2" height="33" rx="4.4" ry="4.4" fill="rgb(220,48,40)"/>
<rect x="87.9" y="826.2" width="9.3" height="33" rx="4.4" ry="4.4" fill="rgb(208,88,52)"/>
<rect x="97.9" y="826.2" width="10.9" height="33" rx="4.4" ry="4.4" fill="rgb(212,104,44)"/>
<rect x="111.2" y="826.2" width="82.6" height="33" rx="4.4" ry="4.4" fill="rgb(232,176,76)"/>
<rect x="195" y="826.2" width="66" height="33" rx="4.4" ry="4.4" fill="rgb(208,112,60)"/>
<rect x="262.1" y="826.2" width="60.9" height="33" rx="4.4" ry="4.4" fill="rgb(244,216,84)"/>
<rect x="323.9" y="826.2" width="559.1" height="33" rx="4.4" ry="4.4" fill="rgb(208,152,60)"/>
<rect x="902.2" y="826.2" width="306.8" height="33" rx="4.4" ry="4.4" fill="rgb(224,172,80)"/>
<rect x="1210" y="826.2" width="37.7" height="33" rx="4.4" ry="4.4" fill="rgb(228,60,64)"/>
<rect x="1248.9" y="826.2" width="701.2" height="33" rx="4.4" ry="4.4" fill="rgb(192,76,48)"/>
<rect x="1951" y="826.2" width="639.8" height="33" rx="4.4" ry="4.4" fill="rgb(224,124,52)"/>
<rect x="2592.2" y="826.2" width="8.7" height="33" rx="4.4" ry="4.4" fill="rgb(200,44,40)"/>
<text y="848.7" x="117.3 138.8 152.8 169.5 179.1">&lt;co..</text>
<text y="848.7" x="201.1 222.6 237.3 246.9">&lt;c..</text>
<text y="848.7" x="268.2 289.7 304.4 314">&lt;c..</text>
<text y="848.7"><tspan x="330 351.5 365.5 381.8 392.6 410.1 422 432.4 439.7 449.8 465.9 478.5 490.5 500.8 516.6 533 548.8 565.4 575.5 591.7 602.7 618 630 640.4 665.9 681.7 699.8 711.8 721.9 744.3 760.1 776.4">&lt;core::iter::adapters::map::Map&lt;</tspan><tspan class="i" x="797.6" textLength="12.4" lengthAdjust="spacingAndGlyphs">I</tspan><tspan x="809.9 819.5">..</tspan></text>
<text y="848.7"><tspan x="908.3 930.1 945.7 954.4 970.4 984.6 993.4 1002.7 1019.4 1029.7 1046.6 1057.4 1073.4">&lt;F as futures</tspan><tspan x="1087.1" textLength="16.8" lengthAdjust="spacingAndGlyphs">_</tspan><tspan x="1103.5 1117.5 1133.8 1141.6 1151.2">cor..</tspan></text>
<text y="848.7"><tspan x="1255 1276.8 1290.6 1301.2 1311.9 1327.7 1343.7 1369.3 1376.6 1393.1">&lt;streaming</tspan><tspan x="1409.7" textLength="16.8" lengthAdjust="spacingAndGlyphs">_</tspan><tspan x="1426.3 1442.6 1458.2 1472.2 1488.2 1513.8 1530.5 1541.3 1557.3 1571 1584.7 1591.9 1607.9 1626.2 1638.1 1648.6 1668.6 1684.2 1698.2 1714.3 1739.8 1756.5 1767.3 1783.3 1797 1810.7 1826.9 1837.7">decompression::Decompressor&lt;</tspan><tspan class="i" x="1858.9" textLength="12.4" lengthAdjust="spacingAndGlyphs">I</tspan><tspan x="1871.2 1880.2 1901.6 1911.2 1920.7">,O,..</tspan></text>
<text y="848.7" x="1957.2 1973.4 1984.7 1995.7 2011.7 2033.3 2051.6 2063.5 2073.9 2081.1 2098.7 2110.7 2120.9 2137.3 2153.5 2164.4 2181 2197.4 2213.4 2225.3 2237.3 2247.9 2258.7 2274.5 2290.3 2308.4 2320.4 2330.6 2347 2362.9 2376.4 2392.6 2403.6 2410.7 2426.6 2433.8 2441.1 2454.7 2472.2 2483.2 2492.8">arrow2::io::parquet::read::deserialize:..</text>
</g>
<g>
<rect x="11" y="861.4" width="9.1" height="33" rx="4.4" ry="4.4" fill="rgb(228,216,72)"/>
<rect x="31.1" y="861.4" width="19.3" height="33" rx="4.4" ry="4.4" fill="rgb(220,128,68)"/>
<rect x="53.7" y="861.4" width="7.8" height="33" rx="4.4" ry="4.4" fill="rgb(252,220,72)"/>
<rect x="75" y="861.4" width="10.2" height="33" rx="4.4" ry="4.4" fill="rgb(212,104,52)"/>
<rect x="87.9" y="861.4" width="9.3" height="33" rx="4.4" ry="4.4" fill="rgb(220,164,56)"/>
<rect x="97.9" y="861.4" width="10.9" height="33" rx="4.4" ry="4.4" fill="rgb(236,124,52)"/>
<rect x="111.2" y="861.4" width="82.6" height="33" rx="4.4" ry="4.4" fill="rgb(232,184,68)"/>
<rect x="195" y="861.4" width="66" height="33" rx="4.4" ry="4.4" fill="rgb(232,216,84)"/>
<rect x="262.1" y="861.4" width="60.9" height="33" rx="4.4" ry="4.4" fill="rgb(216,84,44)"/>
<rect x="323.9" y="861.4" width="559.1" height="33" rx="4.4" ry="4.4" fill="rgb(204,200,68)"/>
<rect x="902.2" y="861.4" width="306.8" height="33" rx="4.4" ry="4.4" fill="rgb(224,132,60)"/>
<rect x="1210" y="861.4" width="37.7" height="33" rx="4.4" ry="4.4" fill="rgb(212,80,60)"/>
<rect x="1248.9" y="861.4" width="701.2" height="33" rx="4.4" ry="4.4" fill="rgb(216,96,60)"/>
<rect x="1951" y="861.4" width="639.8" height="33" rx="4.4" ry="4.4" fill="rgb(212,116,56)"/>
<rect x="2592.2" y="861.4" width="8.7" height="33" rx="4.4" ry="4.4" fill="rgb(212,148,48)"/>
<text y="883.9" x="117.3 138.8 152.8 169.5 179.1">&lt;co..</text>
<text y="883.9" x="201.1 222.6 237.3 246.9">&lt;c..</text>
<text y="883.9" x="268.2 289.7 304.4 314">&lt;c..</text>
<text y="883.9"><tspan x="330 351.7 367.6 374.8 382 397.7 413.4 425.3 435.6 452.1 468.2 483.5 499.3 517.4 529.4 539.8 557.8 573.9 589.2">&lt;alloc::boxed::Box&lt;</tspan><tspan class="i" x="610.4" textLength="12.4" lengthAdjust="spacingAndGlyphs">I</tspan><tspan x="622.7 631.7 649.4 671.7 680.4 696.4 710.6 719 733 749.3 760.1 777.6 789.6 800.6 810.2">,A&gt; as core::..</tspan></text>
<text y="883.9"><tspan x="908.3 930.1 939.4 956.1 966.5 983.4 994.1 1010.1">&lt;futures</tspan><tspan x="1023.8" textLength="16.8" lengthAdjust="spacingAndGlyphs">_</tspan><tspan x="1040.6 1057.3 1067.6 1074.8 1083.6 1095.6 1106 1115.3 1132.6 1142.2">util::fu..</tspan></text>
<text y="883.9" x="1254.9 1268.9 1285.2 1296 1313.5 1325.5 1335.8 1351.7 1368.3 1378.6 1385.8 1401.9 1420.1 1432.1 1442.5 1463.1 1479.7 1490 1497.2 1513.2 1529.6 1551.5 1567.4 1590.8 1602.7 1613.1 1638.6 1654.5 1671.9 1683 1690.2 1706.9 1714.1 1721.3 1737.8 1754.6">core::option::Option&lt;T&gt;::map[inline]</text>
<text y="883.9" x="1957.2 1973.4 1984.7 1995.7 2011.7 2033.3 2051.6 2063.5 2073.9 2081.1 2098.7 2110.7 2120.9 2137.3 2153.5 2164.4 2181 2197.4 2213.4 2225.3 2237.3 2247.9 2258.7 2274.5 2290.3 2308.4 2320.4 2330.6 2347 2362.9 2376.4 2392.6 2403.6 2410.7 2426.6 2433.8 2441.1 2454.7 2472.2 2483.2 2492.8">arrow2::io::parquet::read::deserialize:..</text>
</g>
<g>
<rect x="11" y="896.6" width="9.1" height="33" rx="4.4" ry="4.4" fill="rgb(244,208,72)"/>
<rect x="31.1" y="896.6" width="19.3" height="33" rx="4.4" ry="4.4" fill="rgb(216,184,68)"/>
<rect x="53.7" y="896.6" width="7.8" height="33" rx="4.4" ry="4.4" fill="rgb(224,176,64)"/>
<rect x="75" y="896.6" width="10.2" height="33" rx="4.4" ry="4.4" fill="rgb(220,56,36)"/>
<rect x="87.9" y="896.6" width="9.3" height="33" rx="4.4" ry="4.4" fill="rgb(208,216,72)"/>
<rect x="97.9" y="896.6" width="10.9" height="33" rx="4.4" ry="4.4" fill="rgb(216,216,72)"/>
<rect x="111.2" y="896.6" width="82.6" height="33" rx="4.4" ry="4.4" fill="rgb(196,80,52)"/>
<rect x="195" y="896.6" width="66" height="33" rx="4.4" ry="4.4" fill="rgb(228,112,60)"/>
<rect x="262.1" y="896.6" width="60.9" height="33" rx="4.4" ry="4.4" fill="rgb(228,180,64)"/>
<rect x="323.9" y="896.6" width="559.1" height="33" rx="4.4" ry="4.4" fill="rgb(216,184,64)"/>
<rect x="902.2" y="896.6" width="42.1" height="33" rx="4.4" ry="4.4" fill="rgb(224,56,44)"/>
<rect x="945.4" y="896.6" width="263.6" height="33" rx="4.4" ry="4.4" fill="rgb(200,60,36)"/>
<rect x="1210" y="896.6" width="37.7" height="33" rx="4.4" ry="4.4" fill="rgb(224,124,60)"/>
<rect x="1248.9" y="896.6" width="701.2" height="33" rx="4.4" ry="4.4" fill="rgb(200,44,40)"/>
<rect x="1951" y="896.6" width="639.8" height="33" rx="4.4" ry="4.4" fill="rgb(232,148,68)"/>
<rect x="2592.2" y="896.6" width="8.7" height="33" rx="4.4" ry="4.4" fill="rgb(204,64,36)"/>
<text y="919.1" x="117.3 139 154.9 162.8 172.4">&lt;al..</text>
<text y="919.1" x="201.1 222.8 239.4 249">&lt;a..</text>
<text y="919.1" x="268.2 289.9 306.5 316.1">&lt;a..</text>
<text y="919.1"><tspan x="330 351.5 365.5 381.8 392.6 410.1 422 432.4 439.7 449.8 465.9 478.5 490.5 500.8 516.6 533 548.8 565.4 575.5 591.7 602.7 618 630 640.4 665.9 681.7 699.8 711.8 721.9 744.3 760.1 776.4">&lt;core::iter::adapters::map::Map&lt;</tspan><tspan class="i" x="797.6" textLength="12.4" lengthAdjust="spacingAndGlyphs">I</tspan><tspan x="809.9 819.5">..</tspan></text>
<text y="919.1"><tspan x="951.5 973.3 982.6 999.3 1009.7 1026.6 1037.3 1053.3">&lt;futures</tspan><tspan x="1067" textLength="16.8" lengthAdjust="spacingAndGlyphs">_</tspan><tspan x="1083.8 1100.5 1110.8 1118 1126.8 1137.9 1147.4">util:..</tspan></text>
<text y="919.1"><tspan x="1255 1276.8 1290.6 1301.2 1311.9 1327.7 1343.7 1369.3 1376.6 1393.1">&lt;streaming</tspan><tspan x="1409.7" textLength="16.8" lengthAdjust="spacingAndGlyphs">_</tspan><tspan x="1426.3 1442.6 1458.2 1472.2 1488.2 1513.8 1530.5 1541.3 1557.3 1571 1584.7 1591.9 1607.9 1626.2 1638.1 1648.6 1668.6 1684.2 1698.2 1714.3 1739.8 1756.5 1767.3 1783.3 1797 1810.7 1826.9 1837.7">decompression::Decompressor&lt;</tspan><tspan class="i" x="1858.9" textLength="12.4" lengthAdjust="spacingAndGlyphs">I</tspan><tspan x="1871.2 1880.2 1901.6 1911.2 1920.7">,O,..</tspan></text>
<text y="919.1" x="1957.1 1978.8 1995 2006.2 2017.2 2033.3 2054.8 2073.1 2085.1 2095.5 2102.7 2120.3 2132.2 2142.5 2158.9 2175.1 2186 2202.5 2219 2235 2246.9 2258.8 2269.4 2280.2 2296 2311.9 2330 2341.9 2352.2 2368.5 2384.5 2397.9 2414.1 2425.1 2432.2 2448.2 2455.4 2462.6 2476.2 2492.8 2502.4">&lt;arrow2::io::parquet::read::deserialize..</text>
</g>
<g>
<rect x="11" y="931.8" width="9.1" height="33" rx="4.4" ry="4.4" fill="rgb(216,220,72)"/>
<rect x="31.1" y="931.8" width="19.3" height="33" rx="4.4" ry="4.4" fill="rgb(244,204,72)"/>
<rect x="53.7" y="931.8" width="7.8" height="33" rx="4.4" ry="4.4" fill="rgb(224,116,72)"/>
<rect x="75" y="931.8" width="10.2" height="33" rx="4.4" ry="4.4" fill="rgb(220,48,48)"/>
<rect x="87.9" y="931.8" width="9.3" height="33" rx="4.4" ry="4.4" fill="rgb(216,152,56)"/>
<rect x="97.9" y="931.8" width="10.9" height="33" rx="4.4" ry="4.4" fill="rgb(236,116,56)"/>
<rect x="111.2" y="931.8" width="82.6" height="33" rx="4.4" ry="4.4" fill="rgb(216,128,60)"/>
<rect x="195" y="931.8" width="66" height="33" rx="4.4" ry="4.4" fill="rgb(228,72,52)"/>
<rect x="262.1" y="931.8" width="60.9" height="33" rx="4.4" ry="4.4" fill="rgb(240,148,76)"/>
<rect x="323.9" y="931.8" width="559.1" height="33" rx="4.4" ry="4.4" fill="rgb(216,180,64)"/>
<rect x="902.2" y="931.8" width="42.1" height="33" rx="4.4" ry="4.4" fill="rgb(236,160,60)"/>
<rect x="945.4" y="931.8" width="263.6" height="33" rx="4.4" ry="4.4" fill="rgb(224,68,64)"/>
<rect x="1210" y="931.8" width="37.7" height="33" rx="4.4" ry="4.4" fill="rgb(224,132,56)"/>
<rect x="1248.9" y="931.8" width="701.2" height="33" rx="4.4" ry="4.4" fill="rgb(228,132,52)"/>
<rect x="1951" y="931.8" width="639.8" height="33" rx="4.4" ry="4.4" fill="rgb(204,52,36)"/>
<rect x="2592.2" y="931.8" width="8.7" height="33" rx="4.4" ry="4.4" fill="rgb(220,96,72)"/>
<text y="954.3" x="117.3 138.8 152.8 169.5 179.1">&lt;co..</text>
<text y="954.3" x="201.1 222.6 237.3 246.9">&lt;c..</text>
<text y="954.3" x="268.2 289.7 304.4 314">&lt;c..</text>
<text y="954.3"><tspan x="330 351.7 367.6 374.8 382 397.7 413.4 425.3 435.6 452.1 468.2 483.5 499.3 517.4 529.4 539.8 557.8 573.9 589.2">&lt;alloc::boxed::Box&lt;</tspan><tspan class="i" x="610.4" textLength="12.4" lengthAdjust="spacingAndGlyphs">I</tspan><tspan x="622.7 631.7 649.4 671.7 680.4 696.4 710.6 719 733 749.3 760.1 777.6 789.6 800.6 810.2">,A&gt; as core::..</tspan></text>
<text y="954.3"><tspan x="951.5 973.3 982.6 999.3 1009.7 1026.6 1037.3 1053.3">&lt;futures</tspan><tspan x="1067" textLength="16.8" lengthAdjust="spacingAndGlyphs">_</tspan><tspan x="1083.8 1100.5 1110.8 1118 1126.8 1137.9 1147.4">util:..</tspan></text>
<text y="954.3" x="1255 1276.7 1293.1 1309.3 1320.2 1336.7 1353.2 1369.2 1379.5 1397.8 1409.8 1420.4 1431.2 1447 1462.8 1480.9 1492.9 1502.9 1517 1533 1558.5 1575.3 1586.1 1602 1615.8 1629.5 1636.6 1652.7 1670.9 1682.9 1693.3 1711.2 1727.2 1740.9 1747.8 1761.9 1781.9 1797.5 1811.6 1827.6 1853.1 1869.9 1880.7 1897.2 1906.8">&lt;parquet2::read::compression::BasicDecompre..</text>
<text y="954.3"><tspan x="1957.1 1978.6 1992.6 2008.9 2019.7 2037.2 2049.1 2059.5 2066.8 2076.9 2093 2105.6 2117.6 2127.9 2143.7 2160.1 2175.9 2192.5 2202.6 2218.8 2229.8 2245.1 2257.1 2267.5 2293 2308.8 2326.9 2338.9 2349 2371.4 2387.2 2403.5">&lt;core::iter::adapters::map::Map&lt;</tspan><tspan class="i" x="2424.7" textLength="12.4" lengthAdjust="spacingAndGlyphs">I</tspan><tspan x="2437 2446 2460.9 2483.2 2491.8 2507.8 2522.1 2531.7">,F&gt; as..</tspan></text>
</g>
<g>
<rect x="11" y="967" width="9.1" height="33" rx="4.4" ry="4.4" fill="rgb(192,48,32)"/>
<rect x="31.1" y="967" width="19.3" height="33" rx="4.4" ry="4.4" fill="rgb(236,148,56)"/>
<rect x="53.7" y="967" width="7.8" height="33" rx="4.4" ry="4.4" fill="rgb(212,128,48)"/>
<rect x="75" y="967" width="10.2" height="33" rx="4.4" ry="4.4" fill="rgb(224,168,56)"/>
<rect x="87.9" y="967" width="9.3" height="33" rx="4.4" ry="4.4" fill="rgb(196,120,48)"/>
<rect x="97.9" y="967" width="10.9" height="33" rx="4.4" ry="4.4" fill="rgb(212,76,60)"/>
<rect x="111.2" y="967" width="82.6" height="33" rx="4.4" ry="4.4" fill="rgb(212,164,64)"/>
<rect x="195" y="967" width="66" height="33" rx="4.4" ry="4.4" fill="rgb(224,168,56)"/>
<rect x="262.1" y="967" width="60.9" height="33" rx="4.4" ry="4.4" fill="rgb(212,84,56)"/>
<rect x="323.9" y="967" width="559.1" height="33" rx="4.4" ry="4.4" fill="rgb(220,76,44)"/>
<rect x="902.2" y="967" width="42.1" height="33" rx="4.4" ry="4.4" fill="rgb(220,132,56)"/>
<rect x="945.4" y="967" width="263.6" height="33" rx="4.4" ry="4.4" fill="rgb(224,140,72)"/>
<rect x="1210" y="967" width="37.7" height="33" rx="4.4" ry="4.4" fill="rgb(196,96,64)"/>
<rect x="1248.9" y="967" width="701.2" height="33" rx="4.4" ry="4.4" fill="rgb(224,72,40)"/>
<rect x="1951" y="967" width="639.8" height="33" rx="4.4" ry="4.4" fill="rgb(220,216,80)"/>
<rect x="2592.2" y="967" width="8.7" height="33" rx="4.4" ry="4.4" fill="rgb(200,44,48)"/>
<text y="989.5" x="117.3 139 154.9 162.8 172.4">&lt;al..</text>
<text y="989.5" x="201.1 222.8 239.4 249">&lt;a..</text>
<text y="989.5" x="268.2 289.9 306.5 316.1">&lt;a..</text>
<text y="989.5"><tspan x="330 351.5 365.5 381.8 392.6 410.1 422 432.4 439.7 449.8 465.9 478.5 490.5 500.8 516.6 533 548.8 565.4 575.5 591.7 602.7 618 630 640.4 665.9 681.7 699.8 711.8 721.9 744.3 760.1 776.4">&lt;core::iter::adapters::map::Map&lt;</tspan><tspan class="i" x="797.6" textLength="12.4" lengthAdjust="spacingAndGlyphs">I</tspan><tspan x="809.9 819.5">..</tspan></text>
<text y="989.5"><tspan x="951.8 961 977.8 988.1 1005 1015.8 1031.7">futures</tspan><tspan x="1045.5" textLength="16.8" lengthAdjust="spacingAndGlyphs">_</tspan><tspan x="1062.2 1078.9 1089.2 1096.5 1105.3 1117.2 1128.3 1137.9">util::..</tspan></text>
<text y="989.5"><tspan x="1255.3 1264.4 1280.4 1287.6 1294.8 1301.9 1318.4 1325.4">fallible</tspan><tspan x="1341.4" textLength="16.8" lengthAdjust="spacingAndGlyphs">_</tspan><tspan x="1358.1 1371.9 1382.5 1393.2 1409 1425 1450.6 1457.9 1474.4">streaming</tspan><tspan x="1491" textLength="16.8" lengthAdjust="spacingAndGlyphs">_</tspan><tspan x="1507.7 1515 1525.1 1541.3 1552.1 1568.2 1578.4 1594.7 1607.3 1619.3 1629.7 1644.7 1660.6 1667.8 1675.1 1682.2 1698.7 1705.7 1722.3 1739.7 1750.3 1761.1 1776.9 1792.8 1819.1 1828.7">iterator::FallibleStream..</tspan></text>
<text y="989.5"><tspan x="1957.1 1978.8 1994.7 2001.9 2009.1 2024.8 2040.5 2052.4 2062.7 2079.2 2095.3 2110.6 2126.4 2144.5 2156.5 2166.9 2184.9 2201 2216.3">&lt;alloc::boxed::Box&lt;</tspan><tspan class="i" x="2237.5" textLength="12.4" lengthAdjust="spacingAndGlyphs">I</tspan><tspan x="2249.8 2258.8 2276.5 2298.8 2307.5 2323.5 2337.7 2346.1 2360.1 2376.4 2387.2 2404.7 2416.7 2427 2434.3 2444.4 2460.6 2473.2 2485.1 2496.2 2505.8">,A&gt; as core::iter::..</tspan></text>
</g>
<g>
<rect x="11" y="1002.2" width="9.1" height="33" rx="4.4" ry="4.4" fill="rgb(196,96,40)"/>
<rect x="31.1" y="1002.2" width="19.3" height="33" rx="4.4" ry="4.4" fill="rgb(204,100,52)"/>
<rect x="53.7" y="1002.2" width="7.8" height="33" rx="4.4" ry="4.4" fill="rgb(204,80,64)"/>
<rect x="75" y="1002.2" width="10.2" height="33" rx="4.4" ry="4.4" fill="rgb(232,208,80)"/>
<rect x="87.9" y="1002.2" width="9.3" height="33" rx="4.4" ry="4.4" fill="rgb(220,164,68)"/>
<rect x="97.9" y="1002.2" width="10.9" height="33" rx="4.4" ry="4.4" fill="rgb(220,100,68)"/>
<rect x="111.2" y="1002.2" width="82.6" height="33" rx="4.4" ry="4.4" fill="rgb(224,160,64)"/>
<rect x="195" y="1002.2" width="66" height="33" rx="4.4" ry="4.4" fill="rgb(196,92,48)"/>
<rect x="262.1" y="1002.2" width="60.9" height="33" rx="4.4" ry="4.4" fill="rgb(228,64,44)"/>
<rect x="323.9" y="1002.2" width="559.1" height="33" rx="4.4" ry="4.4" fill="rgb(224,124,64)"/>
<rect x="902.2" y="1002.2" width="42.1" height="33" rx="4.4" ry="4.4" fill="rgb(228,124,56)"/>
<rect x="945.4" y="1002.2" width="263.6" height="33" rx="4.4" ry="4.4" fill="rgb(244,220,84)"/>
<rect x="1210" y="1002.2" width="37.7" height="33" rx="4.4" ry="4.4" fill="rgb(192,40,48)"/>
<rect x="1249" y="1002.2" width="48.8" height="33" rx="4.4" ry="4.4" fill="rgb(228,128,52)"/>
<rect x="1298.9" y="1002.2" width="63.9" height="33" rx="4.4" ry="4.4" fill="rgb(220,88,44)"/>
<rect x="1364" y="1002.2" width="158.4" height="33" rx="4.4" ry="4.4" fill="rgb(212,120,52)"/>
<rect x="1524" y="1002.2" width="426.1" height="33" rx="4.4" ry="4.4" fill="rgb(200,48,44)"/>
<rect x="1951" y="1002.2" width="639.8" height="33" rx="4.4" ry="4.4" fill="rgb(192,60,48)"/>
<rect x="2592.2" y="1002.2" width="8.7" height="33" rx="4.4" ry="4.4" fill="rgb(220,180,72)"/>
<text y="1024.7" x="117.3 138.8 152.8 169.5 179.1">&lt;co..</text>
<text y="1024.7" x="201.1 222.6 237.3 246.9">&lt;c..</text>
<text y="1024.7" x="268.2 289.7 304.4 314">&lt;c..</text>
<text y="1024.7"><tspan x="330 351.7 367.6 374.8 382 397.7 413.4 425.3 435.6 452.1 468.2 483.5 499.3 517.4 529.4 539.8 557.8 573.9 589.2">&lt;alloc::boxed::Box&lt;</tspan><tspan class="i" x="610.4" textLength="12.4" lengthAdjust="spacingAndGlyphs">I</tspan><tspan x="622.7 631.7 649.4 671.7 680.4 696.4 710.6 719 733 749.3 760.1 777.6 789.6 800.6 810.2">,A&gt; as core::..</tspan></text>
<text y="1024.7"><tspan x="951.5 973.3 982.6 999.3 1009.7 1026.6 1037.3 1053.3">&lt;futures</tspan><tspan x="1067" textLength="16.8" lengthAdjust="spacingAndGlyphs">_</tspan><tspan x="1083.8 1100.5 1110.8 1118 1126.8 1137.9 1147.4">util:..</tspan></text>
<text y="1024.7" x="1255.2 1271.8 1281.4">a..</text>
<text y="1024.7" x="1305.1 1321.3 1329.2 1338.7">ar..</text>
<text y="1024.7" x="1370.2 1386.4 1397.7 1408.7 1424.7 1446.3 1464.6 1476.5 1487.6 1497.1">arrow2::..</text>
<text y="1024.7" x="1530.2 1546.4 1557.7 1568.7 1584.7 1606.3 1624.6 1636.5 1646.9 1654.1 1671.7 1683.7 1693.9 1710.3 1726.5 1737.4 1754 1770.4 1786.4 1798.3 1810.3 1820.9 1831.7 1847.5 1863.3 1880.5 1890.1">arrow2::io::parquet::read..</text>
<text y="1024.7"><tspan x="1957.1 1978.6 1992.6 2008.9 2019.7 2037.2 2049.1 2059.5 2066.8 2076.9 2093 2105.6 2117.6 2127.9 2143.7 2160.1 2175.9 2192.5 2202.6 2218.8 2229.8 2245.1 2257.1 2267.5 2293 2308.8 2326.9 2338.9 2349 2371.4 2387.2 2403.5">&lt;core::iter::adapters::map::Map&lt;</tspan><tspan class="i" x="2424.7" textLength="12.4" lengthAdjust="spacingAndGlyphs">I</tspan><tspan x="2437 2446 2460.9 2483.2 2491.8 2507.8 2522.1 2531.7">,F&gt; as..</tspan></text>
</g>
<g>
<rect x="11" y="1037.4" width="9.1" height="33" rx="4.4" ry="4.4" fill="rgb(220,100,44)"/>
<rect x="31.1" y="1037.4" width="19.3" height="33" rx="4.4" ry="4.4" fill="rgb(228,224,96)"/>
<rect x="53.7" y="1037.4" width="7.8" height="33" rx="4.4" ry="4.4" fill="rgb(228,108,48)"/>
<rect x="75" y="1037.4" width="10.2" height="33" rx="4.4" ry="4.4" fill="rgb(208,220,80)"/>
<rect x="87.9" y="1037.4" width="9.3" height="33" rx="4.4" ry="4.4" fill="rgb(204,84,44)"/>
<rect x="97.9" y="1037.4" width="10.9" height="33" rx="4.4" ry="4.4" fill="rgb(248,224,88)"/>
<rect x="111.2" y="1037.4" width="82.6" height="33" rx="4.4" ry="4.4" fill="rgb(208,216,80)"/>
<rect x="195" y="1037.4" width="66" height="33" rx="4.4" ry="4.4" fill="rgb(200,76,60)"/>
<rect x="262.1" y="1037.4" width="60.9" height="33" rx="4.4" ry="4.4" fill="rgb(204,160,64)"/>
<rect x="323.9" y="1037.4" width="559.1" height="33" rx="4.4" ry="4.4" fill="rgb(192,80,36)"/>
<rect x="902.2" y="1037.4" width="42.1" height="33" rx="4.4" ry="4.4" fill="rgb(204,100,48)"/>
<rect x="945.4" y="1037.4" width="263.6" height="33" rx="4.4" ry="4.4" fill="rgb(220,52,48)"/>
<rect x="1210" y="1037.4" width="37.7" height="33" rx="4.4" ry="4.4" fill="rgb(224,60,52)"/>
<rect x="1249" y="1037.4" width="48.8" height="33" rx="4.4" ry="4.4" fill="rgb(200,36,56)"/>
<rect x="1298.9" y="1037.4" width="63.9" height="33" rx="4.4" ry="4.4" fill="rgb(228,88,64)"/>
<rect x="1364" y="1037.4" width="158.4" height="33" rx="4.4" ry="4.4" fill="rgb(216,116,48)"/>
<rect x="1524" y="1037.4" width="426.1" height="33" rx="4.4" ry="4.4" fill="rgb(220,152,68)"/>
<rect x="1951" y="1037.4" width="639.8" height="33" rx="4.4" ry="4.4" fill="rgb(200,52,28)"/>
<rect x="2592.2" y="1037.4" width="8.7" height="33" rx="4.4" ry="4.4" fill="rgb(216,160,72)"/>
<text y="1059.9" x="117.3 139 154.9 162.8 172.4">&lt;al..</text>
<text y="1059.9" x="201.1 222.8 239.4 249">&lt;a..</text>
<text y="1059.9" x="268.2 289.9 306.5 316.1">&lt;a..</text>
<text y="1059.9"><tspan x="330 351.7 367.9 379.1 390.1 406.2 427.7 446 458 468.4 475.6 493.2 505.1 515.4 531.8 548 558.9 575.4 591.9 607.9 619.8 631.7 642.3 653.1 668.9 684.8 702.9 714.8 725.5 736.4 752.5">&lt;arrow2::io::parquet::read::row</tspan><tspan x="774.1" textLength="16.8" lengthAdjust="spacingAndGlyphs">_</tspan><tspan x="790.7 807.8 817.4">g..</tspan></text>
<text y="1059.9"><tspan x="951.5 974 991.8 1000.5 1016.5 1030.7 1039.5 1048.7 1065.5 1075.8 1092.7 1103.5 1119.4">&lt;S as futures</tspan><tspan x="1133.2" textLength="16.8" lengthAdjust="spacingAndGlyphs">_</tspan><tspan x="1150.5 1160.1">..</tspan></text>
<text y="1059.9" x="1255.1 1277.6 1287.1">&lt;..</text>
<text y="1059.9" x="1305 1326.7 1343.3 1352.9">&lt;a..</text>
<text y="1059.9" x="1370.1 1391.8 1408 1419.2 1430.2 1446.3 1467.8 1486.1 1497.1 1506.7">&lt;arrow2:..</text>
<text y="1059.9" x="1530.1 1551.8 1568 1579.2 1590.2 1606.3 1627.8 1646.1 1658.1 1668.5 1675.7 1693.3 1705.2 1715.5 1731.9 1748.1 1759 1775.5 1792 1808 1819.9 1831.8 1842.4 1853.2 1869 1885.6 1895.2">&lt;arrow2::io::parquet::rea..</text>
<text y="1059.9"><tspan x="1957.1 1978.8 1994.7 2001.9 2009.1 2024.8 2040.5 2052.4 2062.7 2079.2 2095.3 2110.6 2126.4 2144.5 2156.5 2166.9 2184.9 2201 2216.3">&lt;alloc::boxed::Box&lt;</tspan><tspan class="i" x="2237.5" textLength="12.4" lengthAdjust="spacingAndGlyphs">I</tspan><tspan x="2249.8 2258.8 2276.5 2298.8 2307.5 2323.5 2337.7 2346.1 2360.1 2376.4 2387.2 2404.7 2416.7 2427 2434.3 2444.4 2460.6 2473.2 2485.1 2496.2 2505.8">,A&gt; as core::iter::..</tspan></text>
</g>
<g>
<rect x="11" y="1072.6" width="9.1" height="33" rx="4.4" ry="4.4" fill="rgb(228,208,72)"/>
<rect x="31.1" y="1072.6" width="19.3" height="33" rx="4.4" ry="4.4" fill="rgb(204,44,32)"/>
<rect x="53.7" y="1072.6" width="7.8" height="33" rx="4.4" ry="4.4" fill="rgb(224,176,64)"/>
<rect x="75" y="1072.6" width="10.2" height="33" rx="4.4" ry="4.4" fill="rgb(216,168,72)"/>
<rect x="87.9" y="1072.6" width="9.3" height="33" rx="4.4" ry="4.4" fill="rgb(228,68,44)"/>
<rect x="111.2" y="1072.6" width="82.6" height="33" rx="4.4" ry="4.4" fill="rgb(228,184,64)"/>
<rect x="195" y="1072.6" width="66" height="33" rx="4.4" ry="4.4" fill="rgb(204,44,32)"/>
<rect x="262.1" y="1072.6" width="60.9" height="33" rx="4.4" ry="4.4" fill="rgb(216,52,56)"/>
<rect x="323.9" y="1072.6" width="559.1" height="33" rx="4.4" ry="4.4" fill="rgb(228,124,64)"/>
<rect x="902.2" y="1072.6" width="42.1" height="33" rx="4.4" ry="4.4" fill="rgb(224,168,76)"/>
<rect x="945.4" y="1072.6" width="263.6" height="33" rx="4.4" ry="4.4" fill="rgb(236,188,72)"/>
<rect x="1210" y="1072.6" width="37.7" height="33" rx="4.4" ry="4.4" fill="rgb(196,64,60)"/>
<rect x="1249" y="1072.6" width="48.8" height="33" rx="4.4" ry="4.4" fill="rgb(240,180,72)"/>
<rect x="1298.9" y="1072.6" width="63.9" height="33" rx="4.4" ry="4.4" fill="rgb(236,208,80)"/>
<rect x="1364" y="1072.6" width="158.4" height="33" rx="4.4" ry="4.4" fill="rgb(204,164,60)"/>
<rect x="1524" y="1072.6" width="426.1" height="33" rx="4.4" ry="4.4" fill="rgb(232,172,72)"/>
<rect x="1951" y="1072.6" width="639.8" height="33" rx="4.4" ry="4.4" fill="rgb(220,204,80)"/>
<rect x="2592.2" y="1072.6" width="8.7" height="33" rx="4.4" ry="4.4" fill="rgb(236,168,56)"/>
<text y="1095.1" x="117.3 139 155.2 163 172.6">&lt;ar..</text>
<text y="1095.1" x="201.1 222.8 239.4 249">&lt;a..</text>
<text y="1095.1" x="268.2 289.9 306.5 316.1">&lt;a..</text>
<text y="1095.1"><tspan x="329.9 343.9 360.2 371 388.5 400.5 410.8 418.1 428.2 444.4 457 468.9 479.2 495 511.4 527.3 543.9 554 570.2 581.2 596.5 608.4 618.8 644.3 660.2 678.3 690.2 700.6 726.1 742">core::iter::adapters::map::map</tspan><tspan x="758.5" textLength="16.8" lengthAdjust="spacingAndGlyphs">_</tspan><tspan x="775.3 785.9 793.7 803.3">tr..</tspan></text>
<text y="1095.1"><tspan x="951.5 973.3 982.6 999.3 1009.7 1026.6 1037.3 1053.3">&lt;futures</tspan><tspan x="1067" textLength="16.8" lengthAdjust="spacingAndGlyphs">_</tspan><tspan x="1083.8 1100.5 1110.8 1118 1126.8 1137.9 1147.4">util:..</tspan></text>
<text y="1095.1" x="1255.1 1277.6 1287.1">&lt;..</text>
<text y="1095.1" x="1305 1326.5 1341.2 1350.8">&lt;c..</text>
<text y="1095.1" x="1370.1 1391.6 1405.6 1421.9 1432.7 1450.2 1462.1 1472.5 1480.4 1490">&lt;core::i..</text>
<text y="1095.1" x="1530.1 1551.6 1565.6 1581.9 1592.7 1610.2 1622.1 1632.5 1639.8 1649.9 1666 1678.6 1690.6 1700.9 1716.7 1733.1 1748.9 1765.5 1775.6 1791.8 1802.8 1818.1 1830.1 1840.5 1866 1882.6 1892.2">&lt;core::iter::adapters::ma..</text>
<text y="1095.1"><tspan x="1957.1 1978.6 1992.6 2008.9 2019.7 2037.2 2049.1 2059.5 2066.8 2076.9 2093 2105.6 2117.6 2127.9 2143.7 2160.1 2175.9 2192.5 2202.6 2218.8 2229.8 2245.1 2257.1 2267.5 2293 2308.8 2326.9 2338.9 2349 2371.4 2387.2 2403.5">&lt;core::iter::adapters::map::Map&lt;</tspan><tspan class="i" x="2424.7" textLength="12.4" lengthAdjust="spacingAndGlyphs">I</tspan><tspan x="2437 2446 2460.9 2483.2 2491.8 2507.8 2522.1 2531.7">,F&gt; as..</tspan></text>
</g>
<g>
<rect x="11" y="1107.8" width="9.1" height="33" rx="4.4" ry="4.4" fill="rgb(212,144,60)"/>
<rect x="31.1" y="1107.8" width="19.3" height="33" rx="4.4" ry="4.4" fill="rgb(228,112,52)"/>
<rect x="53.7" y="1107.8" width="7.8" height="33" rx="4.4" ry="4.4" fill="rgb(236,152,56)"/>
<rect x="75" y="1107.8" width="10.2" height="33" rx="4.4" ry="4.4" fill="rgb(220,160,56)"/>
<rect x="87.9" y="1107.8" width="9.3" height="33" rx="4.4" ry="4.4" fill="rgb(228,48,40)"/>
<rect x="111.2" y="1107.8" width="82.6" height="33" rx="4.4" ry="4.4" fill="rgb(200,104,60)"/>
<rect x="195" y="1107.8" width="66" height="33" rx="4.4" ry="4.4" fill="rgb(244,204,72)"/>
<rect x="262.1" y="1107.8" width="60.9" height="33" rx="4.4" ry="4.4" fill="rgb(236,124,52)"/>
<rect x="323.9" y="1107.8" width="559.1" height="33" rx="4.4" ry="4.4" fill="rgb(216,64,48)"/>
<rect x="902.2" y="1107.8" width="42.1" height="33" rx="4.4" ry="4.4" fill="rgb(196,80,64)"/>
<rect x="945.4" y="1107.8" width="263.6" height="33" rx="4.4" ry="4.4" fill="rgb(188,36,52)"/>
<rect x="1210" y="1107.8" width="37.7" height="33" rx="4.4" ry="4.4" fill="rgb(232,52,68)"/>
<rect x="1249" y="1107.8" width="48.8" height="33" rx="4.4" ry="4.4" fill="rgb(228,128,52)"/>
<rect x="1298.9" y="1107.8" width="63.9" height="33" rx="4.4" ry="4.4" fill="rgb(220,220,88)"/>
<rect x="1364" y="1107.8" width="158.4" height="33" rx="4.4" ry="4.4" fill="rgb(216,116,48)"/>
<rect x="1524" y="1107.8" width="426.1" height="33" rx="4.4" ry="4.4" fill="rgb(196,68,36)"/>
<rect x="1951" y="1107.8" width="639.8" height="33" rx="4.4" ry="4.4" fill="rgb(204,92,40)"/>
<rect x="2592.2" y="1107.8" width="8.7" height="33" rx="4.4" ry="4.4" fill="rgb(232,112,48)"/>
<text y="1130.3" x="117.2 131.2 147.5 155.3 164.9">cor..</text>
<text y="1130.3" x="201 215 231.7 241.3">co..</text>
<text y="1130.3" x="268.1 282.1 298.8 308.4">co..</text>
<text y="1130.3"><tspan x="329.9 343.9 360.2 371 388.5 400.5 410.8 418.1 428.2 444.4 457 468.9 479.4 490 500.8 516.8 524.1 534.4 549.7 561.7 572 579.3 589.4 605.6 616.5 632.5 642.8 659 671.6 683.6">core::iter::traits::iterator::</tspan><tspan class="i" x="693.4" textLength="12.4" lengthAdjust="spacingAndGlyphs">I</tspan><tspan x="705.1 715.2 731.8 741.4">te..</tspan></text>
<text y="1130.3"><tspan x="951.5 973.3 982.6 999.3 1009.7 1026.6 1037.3 1053.3">&lt;futures</tspan><tspan x="1067" textLength="16.8" lengthAdjust="spacingAndGlyphs">_</tspan><tspan x="1083.8 1100.5 1110.8 1118 1126.8 1137.9 1147.4">util:..</tspan></text>
<text y="1130.3" x="1255.1 1277.6 1287.1">&lt;..</text>
<text y="1130.3" x="1305 1326.5 1341.2 1350.8">&lt;c..</text>
<text y="1130.3" x="1370.1 1391.6 1405.6 1421.9 1432.7 1450.2 1462.1 1472.5 1480.4 1490">&lt;core::i..</text>
<text y="1130.3"><tspan x="1530.1 1551.8 1567.7 1574.9 1582.1 1597.8 1613.5 1625.4 1635.7 1652.2 1668.3 1683.6 1699.4 1717.5 1729.5 1739.9 1757.9 1774 1789.3">&lt;alloc::boxed::Box&lt;</tspan><tspan class="i" x="1810.5" textLength="12.4" lengthAdjust="spacingAndGlyphs">I</tspan><tspan x="1822.8 1831.8 1849.5 1871.8 1880.5 1897.1 1906.7">,A&gt; a..</tspan></text>
<text y="1130.3"><tspan x="1957.1 1978.8 1994.7 2001.9 2009.1 2024.8 2040.5 2052.4 2062.7 2079.2 2095.3 2110.6 2126.4 2144.5 2156.5 2166.9 2184.9 2201 2216.3">&lt;alloc::boxed::Box&lt;</tspan><tspan class="i" x="2237.5" textLength="12.4" lengthAdjust="spacingAndGlyphs">I</tspan><tspan x="2249.8 2258.8 2276.5 2298.8 2307.5 2323.5 2337.7 2346.1 2360.1 2376.4 2387.2 2404.7 2416.7 2427 2434.3 2444.4 2460.6 2473.2 2485.1 2496.2 2505.8">,A&gt; as core::iter::..</tspan></text>
</g>
<g>
<rect x="11" y="1143" width="9.1" height="33" rx="4.4" ry="4.4" fill="rgb(204,116,68)"/>
<rect x="31.1" y="1143" width="14.7" height="33" rx="4.4" ry="4.4" fill="rgb(228,148,72)"/>
<rect x="53.7" y="1143" width="7.8" height="33" rx="4.4" ry="4.4" fill="rgb(236,148,56)"/>
<rect x="75" y="1143" width="9.5" height="33" rx="4.4" ry="4.4" fill="rgb(200,132,64)"/>
<rect x="87.9" y="1143" width="9.3" height="33" rx="4.4" ry="4.4" fill="rgb(228,96,44)"/>
<rect x="111.2" y="1143" width="82.6" height="33" rx="4.4" ry="4.4" fill="rgb(208,60,36)"/>
<rect x="195" y="1143" width="66" height="33" rx="4.4" ry="4.4" fill="rgb(208,96,40)"/>
<rect x="262.1" y="1143" width="60.9" height="33" rx="4.4" ry="4.4" fill="rgb(220,52,32)"/>
<rect x="323.9" y="1143" width="559.1" height="33" rx="4.4" ry="4.4" fill="rgb(208,144,68)"/>
<rect x="902.2" y="1143" width="42.1" height="33" rx="4.4" ry="4.4" fill="rgb(224,224,84)"/>
<rect x="945.4" y="1143" width="263.6" height="33" rx="4.4" ry="4.4" fill="rgb(236,68,48)"/>
<rect x="1210" y="1143" width="37.7" height="33" rx="4.4" ry="4.4" fill="rgb(246,196,72)"/>
<rect x="1249" y="1143" width="48.8" height="33" rx="4.4" ry="4.4" fill="rgb(216,168,68)"/>
<rect x="1298.9" y="1143" width="63.9" height="33" rx="4.4" ry="4.4" fill="rgb(216,68,64)"/>
<rect x="1364" y="1143" width="158.4" height="33" rx="4.4" ry="4.4" fill="rgb(220,196,80)"/>
<rect x="1524" y="1143" width="426.1" height="33" rx="4.4" ry="4.4" fill="rgb(204,96,44)"/>
<rect x="1951" y="1143" width="639.8" height="33" rx="4.4" ry="4.4" fill="rgb(192,56,32)"/>
<rect x="2592.2" y="1143" width="8.7" height="33" rx="4.4" ry="4.4" fill="rgb(212,148,64)"/>
<text y="1165.5" x="117.2 131.2 147.5 155.3 164.9">cor..</text>
<text y="1165.5" x="201 215 231.7 241.3">co..</text>
<text y="1165.5" x="268.1 282.1 298.8 308.4">co..</text>
<text y="1165.5"><tspan x="330 351.5 365.5 381.8 392.6 410.1 422 432.4 439.7 449.8 465.9 478.5 490.5 500.8 516.6 533 548.8 565.4 575.5 591.7 602.7 618 630 640.4 665.9 681.7 699.8 711.8 721.9 744.3 760.1 776.4">&lt;core::iter::adapters::map::Map&lt;</tspan><tspan class="i" x="797.6" textLength="12.4" lengthAdjust="spacingAndGlyphs">I</tspan><tspan x="809.9 819.5">..</tspan></text>
<text y="1165.5"><tspan x="951.4 965.4 981.5 1007.1 1032.7 1048.8">common</tspan><tspan x="1065.5" textLength="16.8" lengthAdjust="spacingAndGlyphs">_</tspan><tspan x="1082.2 1096 1106.2 1122.5 1133.4 1149.2 1165.5 1182.1 1191.7">storage..</tspan></text>
<text y="1165.5" x="1255.1 1277.6 1287.1">&lt;..</text>
<text y="1165.5" x="1305 1326.7 1343.3 1352.9">&lt;a..</text>
<text y="1165.5" x="1370.1 1391.8 1407.7 1414.9 1422.1 1437.8 1453.5 1465.4 1476.5 1486.1">&lt;alloc::..</text>
<text y="1165.5" x="1530.1 1551.6 1565.6 1581.9 1592.7 1610.2 1622.1 1632.5 1639.8 1649.9 1666 1678.6 1690.6 1700.9 1716.7 1733.1 1748.9 1765.5 1775.6 1791.8 1802.8 1818.1 1830.1 1840.5 1866 1882.6 1892.2">&lt;core::iter::adapters::ma..</text>
<text y="1165.5"><tspan x="1957.1 1978.8 1995 2006.2 2017.2 2033.3 2054.8 2073.1 2085.1 2095.5 2102.7 2120.3 2132.2 2142.5 2158.9 2175.1 2186 2202.5 2219 2235 2246.9 2258.8 2269.4 2280.2 2296 2311.9 2330 2341.9 2352.6 2363.5 2379.6">&lt;arrow2::io::parquet::read::row</tspan><tspan x="2401.2" textLength="16.8" lengthAdjust="spacingAndGlyphs">_</tspan><tspan x="2417.8 2434.5 2445.5 2461.6 2478.1 2496.2 2508.2 2519.2 2528.8">group::..</tspan></text>
</g>
<g>
<rect x="11" y="1178.2" width="9.1" height="33" rx="4.4" ry="4.4" fill="rgb(220,116,44)"/>
<rect x="31.1" y="1178.2" width="14.7" height="33" rx="4.4" ry="4.4" fill="rgb(196,56,44)"/>
<rect x="53.7" y="1178.2" width="7.8" height="33" rx="4.4" ry="4.4" fill="rgb(200,148,56)"/>
<rect x="75" y="1178.2" width="9.5" height="33" rx="4.4" ry="4.4" fill="rgb(220,136,64)"/>
<rect x="87.9" y="1178.2" width="9.3" height="33" rx="4.4" ry="4.4" fill="rgb(204,136,52)"/>
<rect x="111.2" y="1178.2" width="82.6" height="33" rx="4.4" ry="4.4" fill="rgb(204,104,44)"/>
<rect x="195" y="1178.2" width="66" height="33" rx="4.4" ry="4.4" fill="rgb(212,116,44)"/>
<rect x="262.1" y="1178.2" width="60.9" height="33" rx="4.4" ry="4.4" fill="rgb(244,228,92)"/>
<rect x="323.9" y="1178.2" width="559.1" height="33" rx="4.4" ry="4.4" fill="rgb(208,108,48)"/>
<rect x="902.2" y="1178.2" width="42.1" height="33" rx="4.4" ry="4.4" fill="rgb(204,184,80)"/>
<rect x="945.4" y="1178.2" width="263.6" height="33" rx="4.4" ry="4.4" fill="rgb(224,160,56)"/>
<rect x="1210" y="1178.2" width="37.7" height="33" rx="4.4" ry="4.4" fill="rgb(204,68,36)"/>
<rect x="1249" y="1178.2" width="48.8" height="33" rx="4.4" ry="4.4" fill="rgb(212,176,60)"/>
<rect x="1298.9" y="1178.2" width="63.9" height="33" rx="4.4" ry="4.4" fill="rgb(232,136,52)"/>
<rect x="1364" y="1178.2" width="158.4" height="33" rx="4.4" ry="4.4" fill="rgb(236,168,60)"/>
<rect x="1524" y="1178.2" width="426.1" height="33" rx="4.4" ry="4.4" fill="rgb(236,168,76)"/>
<rect x="1951" y="1178.2" width="639.8" height="33" rx="4.4" ry="4.4" fill="rgb(208,80,36)"/>
<rect x="2592.2" y="1178.2" width="8.7" height="33" rx="4.4" ry="4.4" fill="rgb(200,48,48)"/>
<text y="1200.7" x="117.3 138.8 152.8 169.5 179.1">&lt;co..</text>
<text y="1200.7" x="201.1 222.6 237.3 246.9">&lt;c..</text>
<text y="1200.7" x="268.2 289.7 304.4 314">&lt;c..</text>
<text y="1200.7" x="330 351.5 365.5 381.8 392.6 410.1 422 432.4 439.7 449.8 465.9 478.5 490.5 500.8 516.6 533 548.8 565.4 575.5 591.7 602.7 618 630 640.4 660.6 676.5 692.9 709.1 720.1 727 741.7 759.1 775.8 793.1 802.7">&lt;core::iter::adapters::GenericShu..</text>
<text y="1200.7" x="951.5 973 987 1003.3 1014.1 1031.6 1043.5 1053.9 1063.2 1079.9 1090.3 1107.2 1117.9 1135.4 1146.5 1156.1">&lt;core::future:..</text>
<text y="1200.7" x="1255.1 1277.6 1287.1">&lt;..</text>
<text y="1200.7" x="1305 1326.5 1341.2 1350.8">&lt;c..</text>
<text y="1200.7" x="1370.1 1391.6 1405.6 1421.9 1432.7 1450.2 1462.1 1472.5 1480.4 1490">&lt;core::i..</text>
<text y="1200.7"><tspan x="1530.1 1551.8 1567.7 1574.9 1582.1 1597.8 1613.5 1625.4 1635.7 1652.2 1668.3 1683.6 1699.4 1717.5 1729.5 1739.9 1757.9 1774 1789.3">&lt;alloc::boxed::Box&lt;</tspan><tspan class="i" x="1810.5" textLength="12.4" lengthAdjust="spacingAndGlyphs">I</tspan><tspan x="1822.8 1831.8 1849.5 1871.8 1880.5 1897.1 1906.7">,A&gt; a..</tspan></text>
<text y="1200.7"><tspan x="1957 1971 1987.3 1998.1 2015.6 2027.6 2037.9 2045.2 2055.3 2071.5 2084.1 2096 2106.3 2122.1 2138.5 2154.4 2171 2181.1 2197.3 2208.3 2223.6 2235.5 2245.9 2271.4 2287.3 2305.4 2317.3 2327.7 2353.2 2369.1">core::iter::adapters::map::map</tspan><tspan x="2385.6" textLength="16.8" lengthAdjust="spacingAndGlyphs">_</tspan><tspan x="2402.4 2413 2424">try</tspan><tspan x="2439.6" textLength="16.8" lengthAdjust="spacingAndGlyphs">_</tspan><tspan x="2456.4 2465.6 2481.6 2488.7 2505.9 2515.5">fold..</tspan></text>
</g>
<g>
<rect x="11" y="1213.4" width="9.1" height="33" rx="4.4" ry="4.4" fill="rgb(244,192,72)"/>
<rect x="31.1" y="1213.4" width="14.7" height="33" rx="4.4" ry="4.4" fill="rgb(220,96,64)"/>
<rect x="53.7" y="1213.4" width="7.8" height="33" rx="4.4" ry="4.4" fill="rgb(200,160,60)"/>
<rect x="75" y="1213.4" width="9.5" height="33" rx="4.4" ry="4.4" fill="rgb(236,156,76)"/>
<rect x="87.9" y="1213.4" width="9.3" height="33" rx="4.4" ry="4.4" fill="rgb(224,140,76)"/>
<rect x="111.2" y="1213.4" width="82.6" height="33" rx="4.4" ry="4.4" fill="rgb(224,136,52)"/>
<rect x="195" y="1213.4" width="66" height="33" rx="4.4" ry="4.4" fill="rgb(228,52,36)"/>
<rect x="262.1" y="1213.4" width="60.9" height="33" rx="4.4" ry="4.4" fill="rgb(200,44,40)"/>
<rect x="323.9" y="1213.4" width="559.1" height="33" rx="4.4" ry="4.4" fill="rgb(220,48,56)"/>
<rect x="902.2" y="1213.4" width="42.1" height="33" rx="4.4" ry="4.4" fill="rgb(204,48,28)"/>
<rect x="945.4" y="1213.4" width="263.6" height="33" rx="4.4" ry="4.4" fill="rgb(208,96,64)"/>
<rect x="1210" y="1213.4" width="37.7" height="33" rx="4.4" ry="4.4" fill="rgb(200,104,56)"/>
<rect x="1249" y="1213.4" width="48.8" height="33" rx="4.4" ry="4.4" fill="rgb(220,76,48)"/>
<rect x="1298.9" y="1213.4" width="63.9" height="33" rx="4.4" ry="4.4" fill="rgb(224,168,60)"/>
<rect x="1364" y="1213.4" width="158.4" height="33" rx="4.4" ry="4.4" fill="rgb(196,36,36)"/>
<rect x="1524" y="1213.4" width="426.1" height="33" rx="4.4" ry="4.4" fill="rgb(248,216,84)"/>
<rect x="1951" y="1213.4" width="639.8" height="33" rx="4.4" ry="4.4" fill="rgb(204,172,60)"/>
<rect x="2592.2" y="1213.4" width="8.7" height="33" rx="4.4" ry="4.4" fill="rgb(204,72,64)"/>
<text y="1235.9" x="117.3 138.8 152.8 169.5 179.1">&lt;co..</text>
<text y="1235.9" x="201.1 222.6 237.3 246.9">&lt;c..</text>
<text y="1235.9" x="268.2 289.7 304.4 314">&lt;c..</text>
<text y="1235.9"><tspan x="329.9 343.9 360.2 371 388.5 400.5 410.8 418.1 428.2 444.4 457 468.9 479.4 490 500.8 516.8 524.1 534.4 549.7 561.7 572 579.3 589.4 605.6 616.5 632.5 642.8 659 671.6 683.6">core::iter::traits::iterator::</tspan><tspan class="i" x="693.4" textLength="12.4" lengthAdjust="spacingAndGlyphs">I</tspan><tspan x="705.1 715.2 731.8 741.4">te..</tspan></text>
<text y="1235.9"><tspan x="951.5 973 987 1003 1028.7 1054.3 1070.3">&lt;common</tspan><tspan x="1087" textLength="16.8" lengthAdjust="spacingAndGlyphs">_</tspan><tspan x="1103.8 1117.5 1127.8 1144.1 1154.9 1170.8 1188 1197.6">storag..</tspan></text>
<text y="1235.9" x="1255.1 1277.6 1287.1">&lt;..</text>
<text y="1235.9" x="1305 1326.7 1343.3 1352.9">&lt;a..</text>
<text y="1235.9" x="1370.1 1391.8 1407.7 1414.9 1422.1 1437.8 1453.5 1465.4 1476.5 1486.1">&lt;alloc::..</text>
<text y="1235.9" x="1530.1 1551.6 1565.6 1581.9 1592.7 1610.2 1622.1 1632.5 1639.8 1649.9 1666 1678.6 1690.6 1700.9 1716.7 1733.1 1748.9 1765.5 1775.6 1791.8 1802.8 1818.1 1830.1 1840.5 1866 1882.6 1892.2">&lt;core::iter::adapters::ma..</text>
<text y="1235.9"><tspan x="1957 1971 1987.3 1998.1 2015.6 2027.6 2037.9 2045.2 2055.3 2071.5 2084.1 2096 2106.5 2117.1 2127.9 2143.9 2151.2 2161.5 2176.8 2188.8 2199.1 2206.4 2216.5 2232.7 2243.6 2259.6 2269.9 2286.1 2298.7 2310.7">core::iter::traits::iterator::</tspan><tspan class="i" x="2320.5" textLength="12.4" lengthAdjust="spacingAndGlyphs">I</tspan><tspan x="2332.2 2342.3 2358.5 2369.4 2385.4 2395.7 2412 2424.5 2435.6 2445.2">terator:..</tspan></text>
</g>
<g>
<rect x="11" y="1248.6" width="9.1" height="33" rx="4.4" ry="4.4" fill="rgb(236,148,52)"/>
<rect x="31.1" y="1248.6" width="14.7" height="33" rx="4.4" ry="4.4" fill="rgb(220,56,40)"/>
<rect x="53.7" y="1248.6" width="7.8" height="33" rx="4.4" ry="4.4" fill="rgb(232,72,44)"/>
<rect x="75" y="1248.6" width="9.5" height="33" rx="4.4" ry="4.4" fill="rgb(224,168,60)"/>
<rect x="87.9" y="1248.6" width="9.3" height="33" rx="4.4" ry="4.4" fill="rgb(200,168,68)"/>
<rect x="111.2" y="1248.6" width="82.6" height="33" rx="4.4" ry="4.4" fill="rgb(228,88,48)"/>
<rect x="195" y="1248.6" width="66" height="33" rx="4.4" ry="4.4" fill="rgb(212,176,64)"/>
<rect x="262.1" y="1248.6" width="60.9" height="33" rx="4.4" ry="4.4" fill="rgb(200,76,40)"/>
<rect x="323.9" y="1248.6" width="559.1" height="33" rx="4.4" ry="4.4" fill="rgb(228,68,44)"/>
<rect x="902.2" y="1248.6" width="42.1" height="33" rx="4.4" ry="4.4" fill="rgb(236,160,64)"/>
<rect x="945.4" y="1248.6" width="263.6" height="33" rx="4.4" ry="4.4" fill="rgb(192,48,32)"/>
<rect x="1210" y="1248.6" width="37.7" height="33" rx="4.4" ry="4.4" fill="rgb(220,220,76)"/>
<rect x="1249" y="1248.6" width="48.8" height="33" rx="4.4" ry="4.4" fill="rgb(220,80,52)"/>
<rect x="1298.9" y="1248.6" width="63.9" height="33" rx="4.4" ry="4.4" fill="rgb(212,132,56)"/>
<rect x="1364" y="1248.6" width="158.4" height="33" rx="4.4" ry="4.4" fill="rgb(196,48,36)"/>
<rect x="1524" y="1248.6" width="426.1" height="33" rx="4.4" ry="4.4" fill="rgb(220,220,84)"/>
<rect x="1951" y="1248.6" width="639.8" height="33" rx="4.4" ry="4.4" fill="rgb(196,88,36)"/>
<rect x="2592.2" y="1248.6" width="8.7" height="33" rx="4.4" ry="4.4" fill="rgb(208,216,80)"/>
<text y="1271.1" x="117.2 131.2 147.5 155.3 164.9">cor..</text>
<text y="1271.1" x="201 215 231.7 241.3">co..</text>
<text y="1271.1" x="268.1 282.1 298.8 308.4">co..</text>
<text y="1271.1" x="330 351.5 365.5 381.8 392.6 410.1 422 432.4 439.7 449.8 465.9 478.5 490.5 500.8 516.6 533 548.8 565.4 575.5 591.7 602.7 618 630 640.4 660.6 676.5 692.9 709.1 720.1 727 741.7 759.1 775.8 793.1 802.7">&lt;core::iter::adapters::GenericShu..</text>
<text y="1271.1" x="951.5 973 987 1003.3 1014.1 1031.6 1043.5 1053.9 1063.2 1079.9 1090.3 1107.2 1117.9 1135.4 1146.5 1156.1">&lt;core::future:..</text>
<text y="1271.1" x="1255.1 1277.6 1287.1">&lt;..</text>
<text y="1271.1" x="1305 1326.5 1341.2 1350.8">&lt;c..</text>
<text y="1271.1" x="1370.1 1391.6 1405.6 1421.9 1432.7 1450.2 1462.1 1472.5 1480.4 1490">&lt;core::i..</text>
<text y="1271.1"><tspan x="1530.1 1551.8 1567.7 1574.9 1582.1 1597.8 1613.5 1625.4 1635.7 1652.2 1668.3 1683.6 1699.4 1717.5 1729.5 1739.9 1757.9 1774 1789.3">&lt;alloc::boxed::Box&lt;</tspan><tspan class="i" x="1810.5" textLength="12.4" lengthAdjust="spacingAndGlyphs">I</tspan><tspan x="1822.8 1831.8 1849.5 1871.8 1880.5 1897.1 1906.7">,A&gt; a..</tspan></text>
<text y="1271.1"><tspan x="1957.1 1978.6 1992.6 2008.9 2019.7 2037.2 2049.1 2059.5 2066.8 2076.9 2093 2105.6 2117.6 2127.9 2143.7 2160.1 2175.9 2192.5 2202.6 2218.8 2229.8 2245.1 2257.1 2267.5 2293 2308.8 2326.9 2338.9 2349 2371.4 2387.2 2403.5">&lt;core::iter::adapters::map::Map&lt;</tspan><tspan class="i" x="2424.7" textLength="12.4" lengthAdjust="spacingAndGlyphs">I</tspan><tspan x="2437 2446 2460.9 2483.2 2491.8 2507.8 2522.1 2531.7">,F&gt; as..</tspan></text>
</g>
<g>
<rect x="11" y="1283.8" width="9.1" height="33" rx="4.4" ry="4.4" fill="rgb(204,128,60)"/>
<rect x="31.1" y="1283.8" width="14.7" height="33" rx="4.4" ry="4.4" fill="rgb(196,80,64)"/>
<rect x="53.7" y="1283.8" width="7.8" height="33" rx="4.4" ry="4.4" fill="rgb(204,76,36)"/>
<rect x="75" y="1283.8" width="9.5" height="33" rx="4.4" ry="4.4" fill="rgb(200,112,52)"/>
<rect x="87.9" y="1283.8" width="9.3" height="33" rx="4.4" ry="4.4" fill="rgb(204,104,36)"/>
<rect x="111.2" y="1283.8" width="82.6" height="33" rx="4.4" ry="4.4" fill="rgb(228,164,68)"/>
<rect x="195" y="1283.8" width="66" height="33" rx="4.4" ry="4.4" fill="rgb(232,168,64)"/>
<rect x="262.1" y="1283.8" width="60.9" height="33" rx="4.4" ry="4.4" fill="rgb(224,52,60)"/>
<rect x="324.3" y="1283.8" width="21.9" height="33" rx="4.4" ry="4.4" fill="rgb(232,112,48)"/>
<rect x="347" y="1283.8" width="536" height="33" rx="4.4" ry="4.4" fill="rgb(236,100,44)"/>
<rect x="902.2" y="1283.8" width="42.1" height="33" rx="4.4" ry="4.4" fill="rgb(204,120,64)"/>
<rect x="945.4" y="1283.8" width="263.6" height="33" rx="4.4" ry="4.4" fill="rgb(216,92,52)"/>
<rect x="1210" y="1283.8" width="37.7" height="33" rx="4.4" ry="4.4" fill="rgb(204,44,36)"/>
<rect x="1249" y="1283.8" width="48.8" height="33" rx="4.4" ry="4.4" fill="rgb(240,180,64)"/>
<rect x="1298.9" y="1283.8" width="63.9" height="33" rx="4.4" ry="4.4" fill="rgb(216,60,44)"/>
<rect x="1364" y="1283.8" width="158.4" height="33" rx="4.4" ry="4.4" fill="rgb(216,116,48)"/>
<rect x="1524" y="1283.8" width="426.1" height="33" rx="4.4" ry="4.4" fill="rgb(220,220,76)"/>
<rect x="1951" y="1283.8" width="639.8" height="33" rx="4.4" ry="4.4" fill="rgb(220,56,40)"/>
<rect x="2592.2" y="1283.8" width="8.7" height="33" rx="4.4" ry="4.4" fill="rgb(232,204,80)"/>
<text y="1306.3" x="117.3 138.8 152.8 169.5 179.1">&lt;co..</text>
<text y="1306.3" x="201.1 222.6 237.3 246.9">&lt;c..</text>
<text y="1306.3" x="268.2 289.7 304.4 314">&lt;c..</text>
<text y="1306.3"><tspan x="353.2 369.2 376.4 383.6 399.3 414.9 426.9 437.3 452.6 468.2 483.9 495.8 506.2 523 538.6 552.5 574.3 587.4 596.4 614.2 637.5 649.5 659.6 675.6 691.2 701.3 717.3 733.8">alloc::vec::Vec&lt;T,A&gt;::extend</tspan><tspan x="750.4" textLength="16.8" lengthAdjust="spacingAndGlyphs">_</tspan><tspan x="767 783.3 799.3 813.6 823.2">des..</tspan></text>
<text y="1306.3" x="951.5 973 987 1003.3 1014.1 1031.6 1043.5 1053.8 1070.3 1077.6 1095.8 1107.8 1118.2 1134 1141.9 1151.5">&lt;core::pin::Pi..</text>
<text y="1306.3" x="1255.1 1277.6 1287.1">&lt;..</text>
<text y="1306.3" x="1305 1326.7 1343.3 1352.9">&lt;a..</text>
<text y="1306.3" x="1370.1 1391.8 1407.7 1414.9 1422.1 1437.8 1453.5 1465.4 1476.5 1486.1">&lt;alloc::..</text>
<text y="1306.3" x="1530.1 1551.8 1568 1579.2 1590.2 1606.3 1627.8 1646.1 1658.1 1668.5 1675.7 1693.3 1705.2 1715.5 1731.9 1748.1 1759 1775.5 1792 1808 1819.9 1831.8 1842.4 1853.2 1869 1885.6 1895.2">&lt;arrow2::io::parquet::rea..</text>
<text y="1306.3"><tspan x="1957.1 1978.6 1992.6 2008.9 2019.7 2037.2 2049.1 2059.5 2066.8 2076.9 2093 2105.6 2117.6 2127.9 2143.7 2160.1 2175.9 2192.5 2202.6 2218.8 2229.8 2245.1 2257.1 2267.5 2287.7 2303.6 2320 2336.2 2347.2 2354.1 2368.8 2386.2 2402.9 2419.6 2436.3 2446.4">&lt;core::iter::adapters::GenericShunt&lt;</tspan><tspan class="i" x="2467.5" textLength="12.4" lengthAdjust="spacingAndGlyphs">I</tspan><tspan x="2479.9 2488.9 2507.8 2517.4">,R..</tspan></text>
</g>
<g>
<rect x="11" y="1319" width="9.1" height="33" rx="4.4" ry="4.4" fill="rgb(216,220,72)"/>
<rect x="31.1" y="1319" width="14.7" height="33" rx="4.4" ry="4.4" fill="rgb(208,104,44)"/>
<rect x="53.7" y="1319" width="7.8" height="33" rx="4.4" ry="4.4" fill="rgb(240,152,56)"/>
<rect x="75" y="1319" width="9.5" height="33" rx="4.4" ry="4.4" fill="rgb(244,220,80)"/>
<rect x="87.9" y="1319" width="9.3" height="33" rx="4.4" ry="4.4" fill="rgb(236,172,64)"/>
<rect x="111.2" y="1319" width="82.6" height="33" rx="4.4" ry="4.4" fill="rgb(220,120,52)"/>
<rect x="195" y="1319" width="66" height="33" rx="4.4" ry="4.4" fill="rgb(220,144,68)"/>
<rect x="262.1" y="1319" width="9.7" height="33" rx="4.4" ry="4.4" fill="rgb(204,132,48)"/>
<rect x="272.9" y="1319" width="50.1" height="33" rx="4.4" ry="4.4" fill="rgb(232,108,52)"/>
<rect x="324.3" y="1319" width="21.9" height="33" rx="4.4" ry="4.4" fill="rgb(196,76,64)"/>
<rect x="347" y="1319" width="536" height="33" rx="4.4" ry="4.4" fill="rgb(236,72,68)"/>
<rect x="902.2" y="1319" width="42.1" height="33" rx="4.4" ry="4.4" fill="rgb(208,220,80)"/>
<rect x="945.4" y="1319" width="263.6" height="33" rx="4.4" ry="4.4" fill="rgb(224,184,84)"/>
<rect x="1210" y="1319" width="37.7" height="33" rx="4.4" ry="4.4" fill="rgb(244,196,80)"/>
<rect x="1249" y="1319" width="48.8" height="33" rx="4.4" ry="4.4" fill="rgb(228,52,60)"/>
<rect x="1298.9" y="1319" width="63.9" height="33" rx="4.4" ry="4.4" fill="rgb(228,120,48)"/>
<rect x="1364" y="1319" width="158.4" height="33" rx="4.4" ry="4.4" fill="rgb(212,92,64)"/>
<rect x="1524" y="1319" width="426.1" height="33" rx="4.4" ry="4.4" fill="rgb(200,108,44)"/>
<rect x="1951" y="1319" width="639.8" height="33" rx="4.4" ry="4.4" fill="rgb(232,80,48)"/>
<rect x="2592.2" y="1319" width="8.7" height="33" rx="4.4" ry="4.4" fill="rgb(196,72,48)"/>
<text y="1341.5" x="117.4 133.4 140.6 148.5 158.1">all..</text>
<text y="1341.5" x="201.2 217.2 225.1 234.6">al..</text>
<text y="1341.5" x="279.1 295.7 305.3">a..</text>
<text y="1341.5" x="353.1 374.8 390.7 397.9 405.1 420.8 436.5 448.4 458.9 474.2 489.8 505.4 517.4 527.8 544.6 560.2 574 595.9 609 618 635.7 658 666.6 682.6 696.8 705.5 721.4 728.6 735.8 751.5 767.2 779.1 790.2 799.8">&lt;alloc::vec::Vec&lt;T,A&gt; as alloc::..</text>
<text y="1341.5" x="951.5 973 987 1003.3 1014.1 1031.6 1043.5 1053.8 1070.3 1077.6 1095.8 1107.8 1118.2 1134 1141.9 1151.5">&lt;core::pin::Pi..</text>
<text y="1341.5" x="1255.1 1277.6 1287.1">&lt;..</text>
<text y="1341.5" x="1305 1326.7 1343.3 1352.9">&lt;a..</text>
<text y="1341.5" x="1370.1 1391.8 1408 1419.2 1430.2 1446.3 1467.8 1486.1 1497.1 1506.7">&lt;arrow2:..</text>
<text y="1341.5" x="1530 1544 1560.3 1571.1 1588.6 1600.6 1610.9 1618.2 1628.3 1644.5 1657.1 1669 1679.3 1695.1 1711.5 1727.4 1744 1754.1 1770.3 1781.3 1796.6 1808.5 1818.9 1844.4 1860.3 1877.4 1887">core::iter::adapters::map..</text>
<text y="1341.5"><tspan x="1957 1971 1987.3 1998.1 2015.6 2027.6 2037.9 2045.2 2055.3 2071.5 2084.1 2096 2106.5 2117.1 2127.9 2143.9 2151.2 2161.5 2176.8 2188.8 2199.1 2206.4 2216.5 2232.7 2243.6 2259.6 2269.9 2286.1 2298.7 2310.7">core::iter::traits::iterator::</tspan><tspan class="i" x="2320.5" textLength="12.4" lengthAdjust="spacingAndGlyphs">I</tspan><tspan x="2332.2 2342.3 2358.5 2369.4 2385.4 2395.7 2412 2424.5 2435.6 2445.2">terator:..</tspan></text>
</g>
<g>
<rect x="11" y="1354.2" width="9.1" height="33" rx="4.4" ry="4.4" fill="rgb(192,40,44)"/>
<rect x="31.1" y="1354.2" width="14.7" height="33" rx="4.4" ry="4.4" fill="rgb(196,68,48)"/>
<rect x="53.7" y="1354.2" width="7.8" height="33" rx="4.4" ry="4.4" fill="rgb(220,136,52)"/>
<rect x="75" y="1354.2" width="9.5" height="33" rx="4.4" ry="4.4" fill="rgb(232,124,52)"/>
<rect x="87.9" y="1354.2" width="9.3" height="33" rx="4.4" ry="4.4" fill="rgb(208,44,60)"/>
<rect x="111.2" y="1354.2" width="82.6" height="33" rx="4.4" ry="4.4" fill="rgb(216,72,44)"/>
<rect x="195" y="1354.2" width="66" height="33" rx="4.4" ry="4.4" fill="rgb(200,40,36)"/>
<rect x="262.1" y="1354.2" width="9.7" height="33" rx="4.4" ry="4.4" fill="rgb(224,120,44)"/>
<rect x="272.9" y="1354.2" width="50.1" height="33" rx="4.4" ry="4.4" fill="rgb(244,184,68)"/>
<rect x="324.3" y="1354.2" width="21.9" height="33" rx="4.4" ry="4.4" fill="rgb(208,160,56)"/>
<rect x="347" y="1354.2" width="536" height="33" rx="4.4" ry="4.4" fill="rgb(204,48,32)"/>
<rect x="902.2" y="1354.2" width="42.1" height="33" rx="4.4" ry="4.4" fill="rgb(196,100,72)"/>
<rect x="945.4" y="1354.2" width="263.6" height="33" rx="4.4" ry="4.4" fill="rgb(200,48,44)"/>
<rect x="1210" y="1354.2" width="37.7" height="33" rx="4.4" ry="4.4" fill="rgb(208,140,56)"/>
<rect x="1249" y="1354.2" width="48.8" height="33" rx="4.4" ry="4.4" fill="rgb(228,136,52)"/>
<rect x="1298.9" y="1354.2" width="63.9" height="33" rx="4.4" ry="4.4" fill="rgb(208,100,44)"/>
<rect x="1364" y="1354.2" width="158.4" height="33" rx="4.4" ry="4.4" fill="rgb(204,192,76)"/>
<rect x="1524" y="1354.2" width="426.1" height="33" rx="4.4" ry="4.4" fill="rgb(240,228,88)"/>
<rect x="1951" y="1354.2" width="639.8" height="33" rx="4.4" ry="4.4" fill="rgb(200,96,68)"/>
<rect x="2592.2" y="1354.2" width="8.7" height="33" rx="4.4" ry="4.4" fill="rgb(212,68,36)"/>
<text y="1376.7" x="117.3 139 154.9 162.8 172.4">&lt;al..</text>
<text y="1376.7" x="201.1 222.8 239.4 249">&lt;a..</text>
<text y="1376.7" x="279 301.5 311">&lt;..</text>
<text y="1376.7" x="353.1 374.8 390.7 397.9 405.1 420.8 436.5 448.4 458.9 474.2 489.8 505.4 517.4 527.8 544.6 560.2 574 595.9 611.8 634.1 642.7 658.7 672.9 681.6 697.5 704.7 711.9 727.6 743.3 755.2 765.6 781 797.6 807.1">&lt;alloc::vec::Vec&lt;T&gt; as alloc::ve..</text>
<text y="1376.7" x="951.5 973 987 1003.3 1014.1 1031.6 1043.5 1053.8 1070.3 1077.6 1095.8 1107.8 1118.2 1134 1141.9 1151.5">&lt;core::pin::Pi..</text>
<text y="1376.7" x="1255 1269.7 1279.3">c..</text>
<text y="1376.7" x="1304.9 1318.9 1335.6 1345.2">co..</text>
<text y="1376.7" x="1370 1384 1400.3 1411.1 1428.6 1440.6 1450.9 1458.2 1469.2 1478.8">core::it..</text>
<text y="1376.7" x="1530 1544 1560.3 1571.1 1588.6 1600.6 1610.9 1618.2 1628.3 1644.5 1657.1 1669 1679.5 1690.1 1700.9 1716.9 1724.2 1734.5 1749.8 1761.8 1772.1 1779.4 1789.5 1805.7 1816.6 1833.2 1842.8">core::iter::traits::itera..</text>
<text y="1376.7"><tspan x="1957.1 1978.6 1992.6 2008.9 2019.7 2037.2 2049.1 2059.5 2066.8 2076.9 2093 2105.6 2117.6 2127.9 2143.7 2160.1 2175.9 2192.5 2202.6 2218.8 2229.8 2245.1 2257.1 2267.5 2287.7 2303.6 2320 2336.2 2347.2 2354.1 2368.8 2386.2 2402.9 2419.6 2436.3 2446.4">&lt;core::iter::adapters::GenericShunt&lt;</tspan><tspan class="i" x="2467.5" textLength="12.4" lengthAdjust="spacingAndGlyphs">I</tspan><tspan x="2479.9 2488.9 2507.8 2517.4">,R..</tspan></text>
</g>
<g>
<rect x="11" y="1389.4" width="9.1" height="33" rx="4.4" ry="4.4" fill="rgb(192,40,44)"/>
<rect x="31.1" y="1389.4" width="14.7" height="33" rx="4.4" ry="4.4" fill="rgb(192,36,52)"/>
<rect x="53.7" y="1389.4" width="7.8" height="33" rx="4.4" ry="4.4" fill="rgb(216,120,44)"/>
<rect x="75" y="1389.4" width="9.5" height="33" rx="4.4" ry="4.4" fill="rgb(208,216,72)"/>
<rect x="87.9" y="1389.4" width="9.3" height="33" rx="4.4" ry="4.4" fill="rgb(232,128,60)"/>
<rect x="111.2" y="1389.4" width="82.6" height="33" rx="4.4" ry="4.4" fill="rgb(204,96,44)"/>
<rect x="195" y="1389.4" width="66" height="33" rx="4.4" ry="4.4" fill="rgb(220,216,84)"/>
<rect x="262.1" y="1389.4" width="9.7" height="33" rx="4.4" ry="4.4" fill="rgb(228,188,76)"/>
<rect x="272.9" y="1389.4" width="50.1" height="33" rx="4.4" ry="4.4" fill="rgb(196,56,36)"/>
<rect x="324.3" y="1389.4" width="21.9" height="33" rx="4.4" ry="4.4" fill="rgb(220,56,44)"/>
<rect x="347" y="1389.4" width="536" height="33" rx="4.4" ry="4.4" fill="rgb(196,76,56)"/>
<rect x="902.2" y="1389.4" width="42.1" height="33" rx="4.4" ry="4.4" fill="rgb(200,160,68)"/>
<rect x="945.4" y="1389.4" width="263.6" height="33" rx="4.4" ry="4.4" fill="rgb(200,132,64)"/>
<rect x="1210" y="1389.4" width="37.7" height="33" rx="4.4" ry="4.4" fill="rgb(216,68,60)"/>
<rect x="1249" y="1389.4" width="48.8" height="33" rx="4.4" ry="4.4" fill="rgb(216,108,60)"/>
<rect x="1298.9" y="1389.4" width="63.9" height="33" rx="4.4" ry="4.4" fill="rgb(220,112,76)"/>
<rect x="1364" y="1389.4" width="158.4" height="33" rx="4.4" ry="4.4" fill="rgb(232,116,64)"/>
<rect x="1524" y="1389.4" width="426.1" height="33" rx="4.4" ry="4.4" fill="rgb(220,92,48)"/>
<rect x="1951" y="1389.4" width="380.5" height="33" rx="4.4" ry="4.4" fill="rgb(232,148,60)"/>
<rect x="2332.5" y="1389.4" width="258.3" height="33" rx="4.4" ry="4.4" fill="rgb(204,92,40)"/>
<rect x="2592.2" y="1389.4" width="8.7" height="33" rx="4.4" ry="4.4" fill="rgb(208,196,76)"/>
<text y="1411.9" x="117.3 139 154.9 162.8 172.4">&lt;al..</text>
<text y="1411.9" x="201.1 222.8 239.4 249">&lt;a..</text>
<text y="1411.9" x="279 301.5 311">&lt;..</text>
<text y="1411.9" x="353.1 374.8 390.7 397.9 405.1 420.8 436.5 448.4 458.9 474.2 489.8 505.4 517.4 527.8 544.6 560.2 574 595.9 611.8 634.1 642.7 658.7 672.9 681.6 697.5 704.7 711.9 727.6 743.3 755.2 765.6 781 797.6 807.1">&lt;alloc::vec::Vec&lt;T&gt; as alloc::ve..</text>
<text y="1411.9"><tspan x="951.8 961 977.8 988.1 1005 1015.8 1031.7">futures</tspan><tspan x="1045.5" textLength="16.8" lengthAdjust="spacingAndGlyphs">_</tspan><tspan x="1062.2 1078.9 1089.2 1096.5 1105.3 1117.2 1128.3 1137.9">util::..</tspan></text>
<text y="1411.9" x="1255 1269.7 1279.3">c..</text>
<text y="1411.9" x="1304.9 1318.9 1335.6 1345.2">co..</text>
<text y="1411.9" x="1370 1384 1400.3 1411.1 1428.6 1440.6 1450.9 1458.2 1469.2 1478.8">core::it..</text>
<text y="1411.9" x="1530.1 1551.6 1565.6 1581.9 1592.7 1610.2 1622.1 1632.5 1639.8 1649.9 1666 1678.6 1690.6 1700.9 1716.7 1733.1 1748.9 1765.5 1775.6 1791.8 1802.8 1818.1 1830.1 1840.5 1866 1882.6 1892.2">&lt;core::iter::adapters::ma..</text>
<text y="1411.9" x="1957.1 1978.8 1994.7 2001.9 2009.1 2024.8 2040.5 2052.4 2062.9 2078.2 2093.8 2109.4 2121.4 2131.8 2148.6 2164.2 2178 2199.9 2215.8 2238.1 2246.7 2262.7 2277.1 2286.7">&lt;alloc::vec::Vec&lt;T&gt; as..</text>
<text y="1411.9" x="2338.7 2354.7 2361.9 2369.1 2384.8 2400.4 2412.4 2422.8 2438.1 2453.7 2469.4 2481.3 2491.7 2508.5 2525.1 2534.7">alloc::vec::Ve..</text>
</g>
<g>
<rect x="11" y="1424.6" width="9.1" height="33" rx="4.4" ry="4.4" fill="rgb(228,52,40)"/>
<rect x="31.1" y="1424.6" width="14.7" height="33" rx="4.4" ry="4.4" fill="rgb(216,116,44)"/>
<rect x="53.7" y="1424.6" width="7.8" height="33" rx="4.4" ry="4.4" fill="rgb(196,48,36)"/>
<rect x="75" y="1424.6" width="9.5" height="33" rx="4.4" ry="4.4" fill="rgb(196,96,40)"/>
<rect x="87.9" y="1424.6" width="9.3" height="33" rx="4.4" ry="4.4" fill="rgb(212,228,80)"/>
<rect x="111.2" y="1424.6" width="82.6" height="33" rx="4.4" ry="4.4" fill="rgb(220,52,36)"/>
<rect x="195" y="1424.6" width="66" height="33" rx="4.4" ry="4.4" fill="rgb(200,68,52)"/>
<rect x="262.1" y="1424.6" width="9.7" height="33" rx="4.4" ry="4.4" fill="rgb(244,208,76)"/>
<rect x="272.9" y="1424.6" width="50.1" height="33" rx="4.4" ry="4.4" fill="rgb(224,68,60)"/>
<rect x="324.3" y="1424.6" width="21.9" height="33" rx="4.4" ry="4.4" fill="rgb(188,64,36)"/>
<rect x="347" y="1424.6" width="536" height="33" rx="4.4" ry="4.4" fill="rgb(228,204,76)"/>
<rect x="902.2" y="1424.6" width="42.1" height="33" rx="4.4" ry="4.4" fill="rgb(216,128,64)"/>
<rect x="945.4" y="1424.6" width="263.6" height="33" rx="4.4" ry="4.4" fill="rgb(204,128,52)"/>
<rect x="1210" y="1424.6" width="37.7" height="33" rx="4.4" ry="4.4" fill="rgb(208,44,32)"/>
<rect x="1249" y="1424.6" width="48.8" height="33" rx="4.4" ry="4.4" fill="rgb(224,68,40)"/>
<rect x="1298.9" y="1424.6" width="63.9" height="33" rx="4.4" ry="4.4" fill="rgb(212,52,60)"/>
<rect x="1364" y="1424.6" width="158.4" height="33" rx="4.4" ry="4.4" fill="rgb(200,48,36)"/>
<rect x="1524" y="1424.6" width="426.1" height="33" rx="4.4" ry="4.4" fill="rgb(196,64,44)"/>
<rect x="1951" y="1424.6" width="380.5" height="33" rx="4.4" ry="4.4" fill="rgb(200,88,56)"/>
<rect x="2332.5" y="1424.6" width="258.3" height="33" rx="4.4" ry="4.4" fill="rgb(200,92,64)"/>
<rect x="2592.2" y="1424.6" width="8.7" height="33" rx="4.4" ry="4.4" fill="rgb(212,116,56)"/>
<text y="1447.1" x="117.3 139 154.9 162.8 172.4">&lt;al..</text>
<text y="1447.1" x="201.1 222.8 239.4 249">&lt;a..</text>
<text y="1447.1" x="279 301.5 311">&lt;..</text>
<text y="1447.1" x="353.1 374.8 390.7 397.9 405.1 420.8 436.5 448.4 458.9 474.2 489.8 505.4 517.4 527.8 544.6 560.2 574 595.9 611.8 634.1 642.7 658.7 672.9 681.3 695.4 711.7 722.4 739.9 751.9 762.3 769.6 779.7 796.2 805.8">&lt;alloc::vec::Vec&lt;T&gt; as core::ite..</text>
<text y="1447.1"><tspan x="951.5 973.3 982.6 999.3 1009.7 1026.6 1037.3 1053.3">&lt;futures</tspan><tspan x="1067" textLength="16.8" lengthAdjust="spacingAndGlyphs">_</tspan><tspan x="1083.8 1100.5 1110.8 1118 1126.8 1137.9 1147.4">util:..</tspan></text>
<text y="1447.1" x="1255.1 1277.6 1287.1">&lt;..</text>
<text y="1447.1" x="1305 1326.5 1341.2 1350.8">&lt;c..</text>
<text y="1447.1" x="1370.1 1391.6 1405.6 1421.9 1432.7 1450.2 1462.1 1472.5 1480.4 1490">&lt;core::i..</text>
<text y="1447.1" x="1530.1 1551.6 1565.6 1581.9 1592.7 1610.2 1622.1 1632.5 1639.8 1649.9 1666 1678.6 1690.6 1700.9 1716.7 1733.1 1748.9 1765.5 1775.6 1791.8 1802.8 1818.1 1830.1 1840.5 1860.7 1877.2 1886.8">&lt;core::iter::adapters::Ge..</text>
<text y="1447.1" x="1957.1 1978.8 1994.7 2001.9 2009.1 2024.8 2040.5 2052.4 2062.9 2078.2 2093.8 2109.4 2121.4 2131.8 2148.6 2164.2 2178 2199.9 2215.8 2238.1 2246.7 2262.7 2277.1 2286.7">&lt;alloc::vec::Vec&lt;T&gt; as..</text>
<text y="1447.1" x="2338.6 2360.3 2376.2 2383.4 2390.6 2406.3 2422 2433.9 2444.4 2459.7 2475.3 2490.9 2502.9 2513.3 2528.1 2537.7">&lt;alloc::vec::V..</text>
</g>
<g>
<rect x="31.1" y="1459.8" width="14.7" height="33" rx="4.4" ry="4.4" fill="rgb(196,72,40)"/>
<rect x="53.7" y="1459.8" width="7.8" height="33" rx="4.4" ry="4.4" fill="rgb(220,132,52)"/>
<rect x="75" y="1459.8" width="9.5" height="33" rx="4.4" ry="4.4" fill="rgb(220,164,64)"/>
<rect x="87.9" y="1459.8" width="9.3" height="33" rx="4.4" ry="4.4" fill="rgb(196,92,36)"/>
<rect x="111.2" y="1459.8" width="82.6" height="33" rx="4.4" ry="4.4" fill="rgb(220,108,44)"/>
<rect x="195" y="1459.8" width="66" height="33" rx="4.4" ry="4.4" fill="rgb(232,140,60)"/>
<rect x="262.1" y="1459.8" width="9.7" height="33" rx="4.4" ry="4.4" fill="rgb(200,184,64)"/>
<rect x="272.9" y="1459.8" width="50.1" height="33" rx="4.4" ry="4.4" fill="rgb(236,88,56)"/>
<rect x="324.3" y="1459.8" width="21.9" height="33" rx="4.4" ry="4.4" fill="rgb(196,40,52)"/>
<rect x="347" y="1459.8" width="536" height="33" rx="4.4" ry="4.4" fill="rgb(236,180,64)"/>
<rect x="902.2" y="1459.8" width="42.1" height="33" rx="4.4" ry="4.4" fill="rgb(208,224,88)"/>
<rect x="945.4" y="1459.8" width="263.6" height="33" rx="4.4" ry="4.4" fill="rgb(228,52,56)"/>
<rect x="1210" y="1459.8" width="37.7" height="33" rx="4.4" ry="4.4" fill="rgb(200,52,48)"/>
<rect x="1249" y="1459.8" width="48.8" height="33" rx="4.4" ry="4.4" fill="rgb(212,200,72)"/>
<rect x="1298.9" y="1459.8" width="63.9" height="33" rx="4.4" ry="4.4" fill="rgb(208,136,56)"/>
<rect x="1364" y="1459.8" width="158.4" height="33" rx="4.4" ry="4.4" fill="rgb(248,212,80)"/>
<rect x="1524" y="1459.8" width="426.1" height="33" rx="4.4" ry="4.4" fill="rgb(236,212,84)"/>
<rect x="1951" y="1459.8" width="380.5" height="33" rx="4.4" ry="4.4" fill="rgb(196,116,52)"/>
<rect x="2332.5" y="1459.8" width="258.3" height="33" rx="4.4" ry="4.4" fill="rgb(200,76,68)"/>
<rect x="2592.2" y="1459.8" width="8.7" height="33" rx="4.4" ry="4.4" fill="rgb(232,176,68)"/>
<text y="1482.3" x="117.3 139 154.9 162.8 172.4">&lt;al..</text>
<text y="1482.3" x="201.1 222.8 239.4 249">&lt;a..</text>
<text y="1482.3" x="279 301.5 311">&lt;..</text>
<text y="1482.3"><tspan x="353 367 383.3 394.1 411.6 423.6 433.9 441.2 451.3 467.5 480.1 492 502.5 513.1 523.9 539.9 547.2 557.5 572.8 584.8 595.1 602.4 612.5 628.7 639.6 655.6 665.9 682.1 694.7 706.7">core::iter::traits::iterator::</tspan><tspan class="i" x="716.5" textLength="12.4" lengthAdjust="spacingAndGlyphs">I</tspan><tspan x="728.2 739.2 748.8">t..</tspan></text>
<text y="1482.3"><tspan x="951.6 968 984.1 994.3 1010.1 1026.4 1042.4 1058.9">databend</tspan><tspan x="1075.5" textLength="16.8" lengthAdjust="spacingAndGlyphs">_</tspan><tspan x="1092.1 1108.6 1125.1 1141.2 1152.3 1166.5 1176.1">query..</tspan></text>
<text y="1482.3" x="1255.1 1277.6 1287.1">&lt;..</text>
<text y="1482.3" x="1305 1326.5 1341.2 1350.8">&lt;c..</text>
<text y="1482.3" x="1370.1 1391.6 1405.6 1421.9 1432.7 1450.2 1462.1 1472.5 1480.4 1490">&lt;core::i..</text>
<text y="1482.3" x="1530 1544 1560.3 1571.1 1588.6 1600.6 1610.9 1618.2 1628.3 1644.5 1657.1 1669 1679.5 1690.1 1700.9 1716.9 1724.2 1734.5 1749.8 1761.8 1772.1 1779.4 1789.5 1805.7 1816.6 1833.2 1842.8">core::iter::traits::itera..</text>
<text y="1482.3" x="1957.1 1978.8 1994.7 2001.9 2009.1 2024.8 2040.5 2052.4 2062.9 2078.2 2093.8 2109.4 2121.4 2131.8 2148.6 2164.2 2178 2199.9 2215.8 2238.1 2246.7 2262.7 2277.1 2286.7">&lt;alloc::vec::Vec&lt;T&gt; as..</text>
<text y="1482.3" x="2338.6 2360.3 2376.2 2383.4 2390.6 2406.3 2422 2433.9 2444.4 2459.7 2475.3 2490.9 2502.9 2513.3 2528.1 2537.7">&lt;alloc::vec::V..</text>
</g>
<g>
<rect x="31.1" y="1495" width="14.7" height="33" rx="4.4" ry="4.4" fill="rgb(220,48,48)"/>
<rect x="53.7" y="1495" width="7.8" height="33" rx="4.4" ry="4.4" fill="rgb(236,116,56)"/>
<rect x="75" y="1495" width="9.5" height="33" rx="4.4" ry="4.4" fill="rgb(196,36,32)"/>
<rect x="87.9" y="1495" width="9.3" height="33" rx="4.4" ry="4.4" fill="rgb(236,128,52)"/>
<rect x="111.2" y="1495" width="82.6" height="33" rx="4.4" ry="4.4" fill="rgb(196,72,36)"/>
<rect x="195" y="1495" width="66" height="33" rx="4.4" ry="4.4" fill="rgb(228,84,40)"/>
<rect x="262.1" y="1495" width="9.7" height="33" rx="4.4" ry="4.4" fill="rgb(228,180,76)"/>
<rect x="272.9" y="1495" width="50.1" height="33" rx="4.4" ry="4.4" fill="rgb(196,84,60)"/>
<rect x="324.3" y="1495" width="21.9" height="33" rx="4.4" ry="4.4" fill="rgb(212,208,72)"/>
<rect x="347" y="1495" width="536" height="33" rx="4.4" ry="4.4" fill="rgb(248,196,68)"/>
<rect x="902.2" y="1495" width="42.1" height="33" rx="4.4" ry="4.4" fill="rgb(232,52,48)"/>
<rect x="945.4" y="1495" width="263.6" height="33" rx="4.4" ry="4.4" fill="rgb(204,216,76)"/>
<rect x="1210" y="1495" width="37.7" height="33" rx="4.4" ry="4.4" fill="rgb(222,90,46)"/>
<rect x="1249" y="1495" width="48.8" height="33" rx="4.4" ry="4.4" fill="rgb(232,52,56)"/>
<rect x="1298.9" y="1495" width="63.9" height="33" rx="4.4" ry="4.4" fill="rgb(228,108,48)"/>
<rect x="1364" y="1495" width="158.4" height="33" rx="4.4" ry="4.4" fill="rgb(240,182,70)"/>
<rect x="1524" y="1495" width="426.1" height="33" rx="4.4" ry="4.4" fill="rgb(184,40,32)"/>
<rect x="1951" y="1495" width="380.5" height="33" rx="4.4" ry="4.4" fill="rgb(216,216,80)"/>
<rect x="2332.5" y="1495" width="258.3" height="33" rx="4.4" ry="4.4" fill="rgb(232,228,88)"/>
<rect x="2592.2" y="1495" width="8.7" height="33" rx="4.4" ry="4.4" fill="rgb(200,48,44)"/>
<text y="1517.5" x="117.2 131.2 147.5 155.3 164.9">cor..</text>
<text y="1517.5" x="201 215 231.7 241.3">co..</text>
<text y="1517.5" x="278.9 293.6 303.2">c..</text>
<text y="1517.5" x="353.1 374.6 388.6 404.9 415.7 433.2 445.1 455.7 466.5 482.5 496.2 512.8 520.1 532 544 554.4 572.5 588.4 602.1 618.8 626.1 636.2 658 672.9 681.9 698.3 720.6 729.2 745.2 759.4 767.8 781.9 798.5 808.1">&lt;core::result::Result&lt;V,E&gt; as co..</text>
<text y="1517.5" x="951.5 973 987 1003.3 1014.1 1031.6 1043.5 1053.9 1063.2 1079.9 1090.3 1107.2 1117.9 1135.4 1146.5 1156.1">&lt;core::future:..</text>
<text y="1517.5" x="1255 1269.7 1279.3">c..</text>
<text y="1517.5" x="1304.9 1318.9 1335.6 1345.2">co..</text>
<text y="1517.5" x="1370 1384 1400.3 1411.1 1428.6 1440.6 1450.9 1458.2 1469.2 1478.8">core::it..</text>
<text y="1517.5" x="1530.1 1551.6 1565.6 1581.9 1592.7 1610.2 1622.1 1632.5 1639.8 1649.9 1666 1678.6 1690.6 1700.9 1716.7 1733.1 1748.9 1765.5 1775.6 1791.8 1802.8 1818.1 1830.1 1840.5 1860.7 1877.2 1886.8">&lt;core::iter::adapters::Ge..</text>
<text y="1517.5" x="1957 1971 1987.3 1998.1 2015.6 2027.6 2037.9 2045.2 2055.3 2071.5 2084.1 2096 2106.5 2117.1 2127.9 2143.9 2151.2 2161.5 2176.8 2188.8 2199.1 2206.4 2217.4 2227">core::iter::traits::it..</text>
<text y="1517.5" x="2338.6 2360.3 2376.2 2383.4 2390.6 2406.3 2422 2433.9 2444.4 2459.7 2475.3 2490.9 2502.9 2513.3 2528.1 2537.7">&lt;alloc::vec::V..</text>
</g>
<g>
<rect x="31.1" y="1530.2" width="14.7" height="33" rx="4.4" ry="4.4" fill="rgb(224,80,52)"/>
<rect x="53.7" y="1530.2" width="7.8" height="33" rx="4.4" ry="4.4" fill="rgb(216,132,48)"/>
<rect x="75" y="1530.2" width="9.5" height="33" rx="4.4" ry="4.4" fill="rgb(196,64,40)"/>
<rect x="87.9" y="1530.2" width="9.3" height="33" rx="4.4" ry="4.4" fill="rgb(208,116,52)"/>
<rect x="111.2" y="1530.2" width="82.6" height="33" rx="4.4" ry="4.4" fill="rgb(212,44,44)"/>
<rect x="195" y="1530.2" width="66" height="33" rx="4.4" ry="4.4" fill="rgb(228,104,44)"/>
<rect x="262.1" y="1530.2" width="9.7" height="33" rx="4.4" ry="4.4" fill="rgb(224,100,44)"/>
<rect x="272.9" y="1530.2" width="50.1" height="33" rx="4.4" ry="4.4" fill="rgb(240,212,80)"/>
<rect x="324.3" y="1530.2" width="21.9" height="33" rx="4.4" ry="4.4" fill="rgb(240,212,80)"/>
<rect x="347" y="1530.2" width="536" height="33" rx="4.4" ry="4.4" fill="rgb(212,88,52)"/>
<rect x="902.2" y="1530.2" width="42.1" height="33" rx="4.4" ry="4.4" fill="rgb(204,168,64)"/>
<rect x="945.4" y="1530.2" width="263.6" height="33" rx="4.4" ry="4.4" fill="rgb(210,164,64)"/>
<rect x="1210" y="1530.2" width="37.7" height="33" rx="4.4" ry="4.4" fill="rgb(234,140,56)"/>
<rect x="1249" y="1530.2" width="48.8" height="33" rx="4.4" ry="4.4" fill="rgb(238,148,60)"/>
<rect x="1298.9" y="1530.2" width="63.9" height="33" rx="4.4" ry="4.4" fill="rgb(192,128,60)"/>
<rect x="1364" y="1530.2" width="158.4" height="33" rx="4.4" ry="4.4" fill="rgb(194,68,48)"/>
<rect x="1524" y="1530.2" width="114.6" height="33" rx="4.4" ry="4.4" fill="rgb(208,200,76)"/>
<rect x="1640" y="1530.2" width="310.1" height="33" rx="4.4" ry="4.4" fill="rgb(224,168,64)"/>
<rect x="1951" y="1530.2" width="380.5" height="33" rx="4.4" ry="4.4" fill="rgb(196,52,40)"/>
<rect x="2332.5" y="1530.2" width="258.3" height="33" rx="4.4" ry="4.4" fill="rgb(228,96,44)"/>
<rect x="2592.2" y="1530.2" width="8.7" height="33" rx="4.4" ry="4.4" fill="rgb(216,208,80)"/>
<text y="1552.7" x="117.3 138.8 152.8 169.5 179.1">&lt;co..</text>
<text y="1552.7" x="201.1 222.6 237.3 246.9">&lt;c..</text>
<text y="1552.7" x="279 301.5 311">&lt;..</text>
<text y="1552.7"><tspan x="353 367 383.3 394.1 411.6 423.6 433.9 441.2 451.3 467.5 480.1 492 502.3 518.1 534.5 550.4 567 577.1 593.3 604.3 619.6 631.5 642 652.5 663.6">core::iter::adapters::try</tspan><tspan x="679.2" textLength="16.8" lengthAdjust="spacingAndGlyphs">_</tspan><tspan x="695.8 712.6 723.5 739.2 753.1 769 783.4 792.9">proces..</tspan></text>
<text y="1552.7" x="951.5 973 987 1003.3 1014.1 1031.6 1043.5 1053.8 1070.3 1077.6 1095.8 1107.8 1118.2 1134 1141.9 1151.5">&lt;core::pin::Pi..</text>
<text y="1552.7" x="1255.1 1277.6 1287.1">&lt;..</text>
<text y="1552.7" x="1305 1326.5 1341.2 1350.8">&lt;c..</text>
<text y="1552.7" x="1370.1 1391.6 1405.6 1421.9 1432.7 1450.2 1462.1 1472.5 1480.4 1490">&lt;core::i..</text>
<text y="1552.7" x="1530.1 1551.8 1567.7 1574.9 1582.1 1598.8 1608.4">&lt;allo..</text>
<text y="1552.7" x="1646.2 1662.2 1669.4 1676.6 1692.3 1707.9 1719.9 1730.3 1745.6 1761.2 1776.9 1788.8 1799.2 1816 1831.6 1845.5 1867.3 1880.4 1890">alloc::vec::Vec&lt;T..</text>
<text y="1552.7" x="1957.1 1978.6 1992.6 2008.9 2019.7 2037.2 2049.1 2059.7 2070.5 2086.5 2100.2 2116.8 2124.1 2136 2148 2158.4 2176.5 2192.4 2206.1 2222.8 2230.1 2240.2 2262.6 2272.2">&lt;core::result::Result&lt;..</text>
<text y="1552.7" x="2338.6 2360.3 2376.2 2383.4 2390.6 2406.3 2422 2433.9 2444.4 2459.7 2475.3 2490.9 2502.9 2513.3 2528.1 2537.7">&lt;alloc::vec::V..</text>
</g>
<g>
<rect x="31.1" y="1565.4" width="14.7" height="33" rx="4.4" ry="4.4" fill="rgb(220,168,56)"/>
<rect x="53.7" y="1565.4" width="7.8" height="33" rx="4.4" ry="4.4" fill="rgb(220,204,76)"/>
<rect x="75" y="1565.4" width="9.5" height="33" rx="4.4" ry="4.4" fill="rgb(200,64,60)"/>
<rect x="87.9" y="1565.4" width="9.3" height="33" rx="4.4" ry="4.4" fill="rgb(244,192,72)"/>
<rect x="111.2" y="1565.4" width="82.6" height="33" rx="4.4" ry="4.4" fill="rgb(232,76,40)"/>
<rect x="195" y="1565.4" width="66" height="33" rx="4.4" ry="4.4" fill="rgb(236,100,56)"/>
<rect x="262.1" y="1565.4" width="9.7" height="33" rx="4.4" ry="4.4" fill="rgb(196,84,36)"/>
<rect x="272.9" y="1565.4" width="50.1" height="33" rx="4.4" ry="4.4" fill="rgb(228,76,48)"/>
<rect x="324.3" y="1565.4" width="21.9" height="33" rx="4.4" ry="4.4" fill="rgb(224,48,56)"/>
<rect x="347" y="1565.4" width="536" height="33" rx="4.4" ry="4.4" fill="rgb(228,144,56)"/>
<rect x="902.2" y="1565.4" width="42.1" height="33" rx="4.4" ry="4.4" fill="rgb(196,64,44)"/>
<rect x="945.4" y="1565.4" width="263.6" height="33" rx="4.4" ry="4.4" fill="rgb(208,134,52)"/>
<rect x="1210" y="1565.4" width="37.7" height="33" rx="4.4" ry="4.4" fill="rgb(198,58,66)"/>
<rect x="1249.2" y="1565.4" width="6.4" height="33" rx="4.4" ry="4.4" fill="rgb(220,82,66)"/>
<rect x="1256.4" y="1565.4" width="41.4" height="33" rx="4.4" ry="4.4" fill="rgb(220,220,92)"/>
<rect x="1298.9" y="1565.4" width="63.9" height="33" rx="4.4" ry="4.4" fill="rgb(222,88,64)"/>
<rect x="1364" y="1565.4" width="158.4" height="33" rx="4.4" ry="4.4" fill="rgb(204,116,64)"/>
<rect x="1524" y="1565.4" width="114.6" height="33" rx="4.4" ry="4.4" fill="rgb(220,48,60)"/>
<rect x="1640" y="1565.4" width="310.1" height="33" rx="4.4" ry="4.4" fill="rgb(232,124,68)"/>
<rect x="1951" y="1565.4" width="380.5" height="33" rx="4.4" ry="4.4" fill="rgb(196,132,52)"/>
<rect x="2332.5" y="1565.4" width="258.3" height="33" rx="4.4" ry="4.4" fill="rgb(236,168,68)"/>
<rect x="2592.2" y="1565.4" width="8.7" height="33" rx="4.4" ry="4.4" fill="rgb(228,88,52)"/>
<text y="1587.9" x="117.2 131.2 147.5 155.3 164.9">cor..</text>
<text y="1587.9" x="201 215 231.7 241.3">co..</text>
<text y="1587.9" x="278.9 293.6 303.2">c..</text>
<text y="1587.9" x="353.1 374.6 388.6 404.9 415.7 433.2 445.1 455.7 466.5 482.5 496.2 512.8 520.1 532 544 554.4 572.5 588.4 602.1 618.8 626.1 636.2 658 672.9 681.9 698.3 720.6 729.2 745.2 759.4 767.8 781.9 798.5 808.1">&lt;core::result::Result&lt;V,E&gt; as co..</text>
<text y="1587.9"><tspan x="951.8 961 977.8 988.1 1005 1015.8 1031.7">futures</tspan><tspan x="1045.5" textLength="16.8" lengthAdjust="spacingAndGlyphs">_</tspan><tspan x="1062.2 1078.9 1089.2 1096.5 1105.3 1117.2 1128.3 1137.9">util::..</tspan></text>
<text y="1587.9" x="1305.1 1321.1 1329 1338.5">al..</text>
<text y="1587.9" x="1370.2 1386.2 1393.4 1400.6 1416.3 1431.9 1443.9 1454.3 1468.6 1478.1">alloc::v..</text>
<text y="1587.9" x="1530.1 1551.8 1567.7 1574.9 1582.1 1598.8 1608.4">&lt;allo..</text>
<text y="1587.9" x="1646.1 1667.8 1683.7 1690.9 1698.1 1713.8 1729.5 1741.4 1751.9 1767.2 1782.8 1798.4 1810.4 1820.8 1837.6 1853.2 1867 1889.4 1899">&lt;alloc::vec::Vec&lt;..</text>
<text y="1587.9" x="1957 1971 1987.3 1998.1 2015.6 2027.6 2037.9 2045.2 2055.3 2071.5 2084.1 2096 2106.3 2122.1 2138.5 2154.4 2171 2181.1 2197.3 2208.3 2223.6 2235.5 2246.6 2256.1">core::iter::adapters::..</text>
<text y="1587.9" x="2338.5 2352.5 2368.8 2379.6 2397.1 2409.1 2419.4 2426.7 2436.8 2453 2465.6 2477.5 2488 2498.6 2506.4 2516">core::iter::tr..</text>
</g>
<g>
<rect x="31.1" y="1600.6" width="14.7" height="33" rx="4.4" ry="4.4" fill="rgb(204,92,44)"/>
<rect x="53.7" y="1600.6" width="7.8" height="33" rx="4.4" ry="4.4" fill="rgb(216,204,80)"/>
<rect x="75" y="1600.6" width="9.5" height="33" rx="4.4" ry="4.4" fill="rgb(216,76,52)"/>
<rect x="87.9" y="1600.6" width="9.3" height="33" rx="4.4" ry="4.4" fill="rgb(220,184,68)"/>
<rect x="111.2" y="1600.6" width="82.6" height="33" rx="4.4" ry="4.4" fill="rgb(220,80,44)"/>
<rect x="195" y="1600.6" width="66" height="33" rx="4.4" ry="4.4" fill="rgb(216,204,84)"/>
<rect x="262.1" y="1600.6" width="9.7" height="33" rx="4.4" ry="4.4" fill="rgb(200,60,64)"/>
<rect x="272.9" y="1600.6" width="50.1" height="33" rx="4.4" ry="4.4" fill="rgb(220,92,60)"/>
<rect x="324.3" y="1600.6" width="21.9" height="33" rx="4.4" ry="4.4" fill="rgb(236,136,72)"/>
<rect x="347" y="1600.6" width="536" height="33" rx="4.4" ry="4.4" fill="rgb(236,200,72)"/>
<rect x="902.2" y="1600.6" width="42.1" height="33" rx="4.4" ry="4.4" fill="rgb(208,92,60)"/>
<rect x="945.4" y="1600.6" width="263.6" height="33" rx="4.4" ry="4.4" fill="rgb(220,126,54)"/>
<rect x="1210" y="1600.6" width="37.7" height="33" rx="4.4" ry="4.4" fill="rgb(222,172,58)"/>
<rect x="1249.2" y="1600.6" width="6.4" height="33" rx="4.4" ry="4.4" fill="rgb(214,76,56)"/>
<rect x="1256.4" y="1600.6" width="41.4" height="33" rx="4.4" ry="4.4" fill="rgb(234,204,84)"/>
<rect x="1298.9" y="1600.6" width="63.9" height="33" rx="4.4" ry="4.4" fill="rgb(228,100,44)"/>
<rect x="1364" y="1600.6" width="158.4" height="33" rx="4.4" ry="4.4" fill="rgb(210,112,56)"/>
<rect x="1524" y="1600.6" width="114.6" height="33" rx="4.4" ry="4.4" fill="rgb(228,228,96)"/>
<rect x="1640" y="1600.6" width="310.1" height="33" rx="4.4" ry="4.4" fill="rgb(232,152,60)"/>
<rect x="1951" y="1600.6" width="380.5" height="33" rx="4.4" ry="4.4" fill="rgb(220,128,56)"/>
<rect x="2332.5" y="1600.6" width="258.3" height="33" rx="4.4" ry="4.4" fill="rgb(220,56,48)"/>
<rect x="2592.2" y="1600.6" width="8.7" height="33" rx="4.4" ry="4.4" fill="rgb(200,156,72)"/>
<text y="1623.1" x="117.3 138.8 152.8 169.5 179.1">&lt;co..</text>
<text y="1623.1" x="201.1 222.6 237.3 246.9">&lt;c..</text>
<text y="1623.1" x="279 301.5 311">&lt;..</text>
<text y="1623.1"><tspan x="353 367 383.3 394.1 411.6 423.6 433.9 441.2 451.3 467.5 480.1 492 502.5 513.1 523.9 539.9 547.2 557.5 572.8 584.8 595.1 602.4 612.5 628.7 639.6 655.6 665.9 682.1 694.7 706.7">core::iter::traits::iterator::</tspan><tspan class="i" x="716.5" textLength="12.4" lengthAdjust="spacingAndGlyphs">I</tspan><tspan x="728.2 739.2 748.8">t..</tspan></text>
<text y="1623.1"><tspan x="951.5 973.3 982.6 999.3 1009.7 1026.6 1037.3 1053.3">&lt;futures</tspan><tspan x="1067" textLength="16.8" lengthAdjust="spacingAndGlyphs">_</tspan><tspan x="1083.8 1100.5 1110.8 1118 1126.8 1137.9 1147.4">util:..</tspan></text>
<text y="1623.1" x="1305 1326.7 1343.3 1352.9">&lt;a..</text>
<text y="1623.1" x="1370.1 1391.8 1407.7 1414.9 1422.1 1437.8 1453.5 1465.4 1476.5 1486.1">&lt;alloc::..</text>
<text y="1623.1" x="1530.1 1551.8 1567.7 1574.9 1582.1 1598.8 1608.4">&lt;allo..</text>
<text y="1623.1" x="1646.1 1667.8 1683.7 1690.9 1698.1 1713.8 1729.5 1741.4 1751.9 1767.2 1782.8 1798.4 1810.4 1820.8 1837.6 1853.2 1867 1889.4 1899">&lt;alloc::vec::Vec&lt;..</text>
<text y="1623.1" x="1957.1 1978.6 1992.6 2008.9 2019.7 2037.2 2049.1 2059.7 2070.5 2086.5 2100.2 2116.8 2124.1 2136 2148 2158.4 2176.5 2192.4 2206.1 2222.8 2230.1 2240.2 2262.6 2272.2">&lt;core::result::Result&lt;..</text>
<text y="1623.1" x="2338.6 2360.1 2374.1 2390.4 2401.2 2418.7 2430.6 2441.2 2452 2468 2481.7 2498.3 2505.6 2517.5 2528.6 2538.2">&lt;core::result:..</text>
</g>
<g>
<rect x="31.1" y="1635.8" width="14.7" height="33" rx="4.4" ry="4.4" fill="rgb(196,48,32)"/>
<rect x="53.7" y="1635.8" width="7.8" height="33" rx="4.4" ry="4.4" fill="rgb(224,52,64)"/>
<rect x="75" y="1635.8" width="9.5" height="33" rx="4.4" ry="4.4" fill="rgb(216,52,48)"/>
<rect x="87.9" y="1635.8" width="9.3" height="33" rx="4.4" ry="4.4" fill="rgb(216,192,72)"/>
<rect x="111.2" y="1635.8" width="82.6" height="33" rx="4.4" ry="4.4" fill="rgb(200,144,72)"/>
<rect x="195" y="1635.8" width="66" height="33" rx="4.4" ry="4.4" fill="rgb(212,152,56)"/>
<rect x="262.1" y="1635.8" width="9.7" height="33" rx="4.4" ry="4.4" fill="rgb(232,140,52)"/>
<rect x="272.9" y="1635.8" width="50.1" height="33" rx="4.4" ry="4.4" fill="rgb(236,136,68)"/>
<rect x="324.3" y="1635.8" width="21.9" height="33" rx="4.4" ry="4.4" fill="rgb(200,184,60)"/>
<rect x="347" y="1635.8" width="536" height="33" rx="4.4" ry="4.4" fill="rgb(204,100,56)"/>
<rect x="902.2" y="1635.8" width="42.1" height="33" rx="4.4" ry="4.4" fill="rgb(232,88,56)"/>
<rect x="945.4" y="1635.8" width="263.6" height="33" rx="4.4" ry="4.4" fill="rgb(208,46,34)"/>
<rect x="1210" y="1635.8" width="37.7" height="33" rx="4.4" ry="4.4" fill="rgb(220,52,52)"/>
<rect x="1249.2" y="1635.8" width="6.4" height="33" rx="4.4" ry="4.4" fill="rgb(216,96,64)"/>
<rect x="1256.4" y="1635.8" width="41.4" height="33" rx="4.4" ry="4.4" fill="rgb(224,76,48)"/>
<rect x="1298.9" y="1635.8" width="63.9" height="33" rx="4.4" ry="4.4" fill="rgb(220,60,40)"/>
<rect x="1364" y="1635.8" width="158.4" height="33" rx="4.4" ry="4.4" fill="rgb(236,216,80)"/>
<rect x="1524" y="1635.8" width="114.6" height="33" rx="4.4" ry="4.4" fill="rgb(232,232,100)"/>
<rect x="1640" y="1635.8" width="310.1" height="33" rx="4.4" ry="4.4" fill="rgb(196,64,40)"/>
<rect x="1951" y="1635.8" width="380.5" height="33" rx="4.4" ry="4.4" fill="rgb(228,196,76)"/>
<rect x="2332.5" y="1635.8" width="258.3" height="33" rx="4.4" ry="4.4" fill="rgb(196,104,52)"/>
<rect x="2592.2" y="1635.8" width="8.7" height="33" rx="4.4" ry="4.4" fill="rgb(216,56,60)"/>
<text y="1658.3" x="117.2 131.2 147.5 155.3 164.9">cor..</text>
<text y="1658.3" x="201 215 231.7 241.3">co..</text>
<text y="1658.3" x="278.9 293.6 303.2">c..</text>
<text y="1658.3" x="353.1 374.8 391 402.2 413.2 429.3 450.8 469.1 481.1 491.5 498.7 516.3 528.2 538.5 554.9 571.1 582 598.5 615 631 642.9 654.8 665.4 676.2 692 707.9 726 737.9 748.2 764.5 780.5 793.9 810.1 817.9 827.5">&lt;arrow2::io::parquet::read::deser..</text>
<text y="1658.3"><tspan x="951.6 968 984.1 994.3 1010.1 1026.4 1042.4 1058.9">databend</tspan><tspan x="1075.5" textLength="16.8" lengthAdjust="spacingAndGlyphs">_</tspan><tspan x="1092.1 1108.6 1125.1 1141.2 1152.3 1166.5 1176.1">query..</tspan></text>
<text y="1658.3" x="1304.9 1318.9 1335.6 1345.2">co..</text>
<text y="1658.3" x="1370.1 1391.8 1407.7 1414.9 1422.1 1437.8 1453.5 1465.4 1476.5 1486.1">&lt;alloc::..</text>
<text y="1658.3" x="1530 1544 1560.3 1571.1 1587.7 1597.3">core..</text>
<text y="1658.3" x="1646.1 1667.8 1683.7 1690.9 1698.1 1713.8 1729.5 1741.4 1751.9 1767.2 1782.8 1798.4 1810.4 1820.8 1837.6 1853.2 1867 1889.4 1899">&lt;alloc::vec::Vec&lt;..</text>
<text y="1658.3" x="1957 1971 1987.3 1998.1 2015.6 2027.6 2037.9 2045.2 2055.3 2071.5 2084.1 2096 2106.5 2117.1 2127.9 2143.9 2151.2 2161.5 2176.8 2188.8 2199.1 2206.4 2217.4 2227">core::iter::traits::it..</text>
<text y="1658.3" x="2338.6 2360.1 2374.1 2390.4 2401.2 2418.7 2430.6 2441.2 2452 2468 2481.7 2498.3 2505.6 2517.5 2528.6 2538.2">&lt;core::result:..</text>
</g>
</svg>
</body></html>
